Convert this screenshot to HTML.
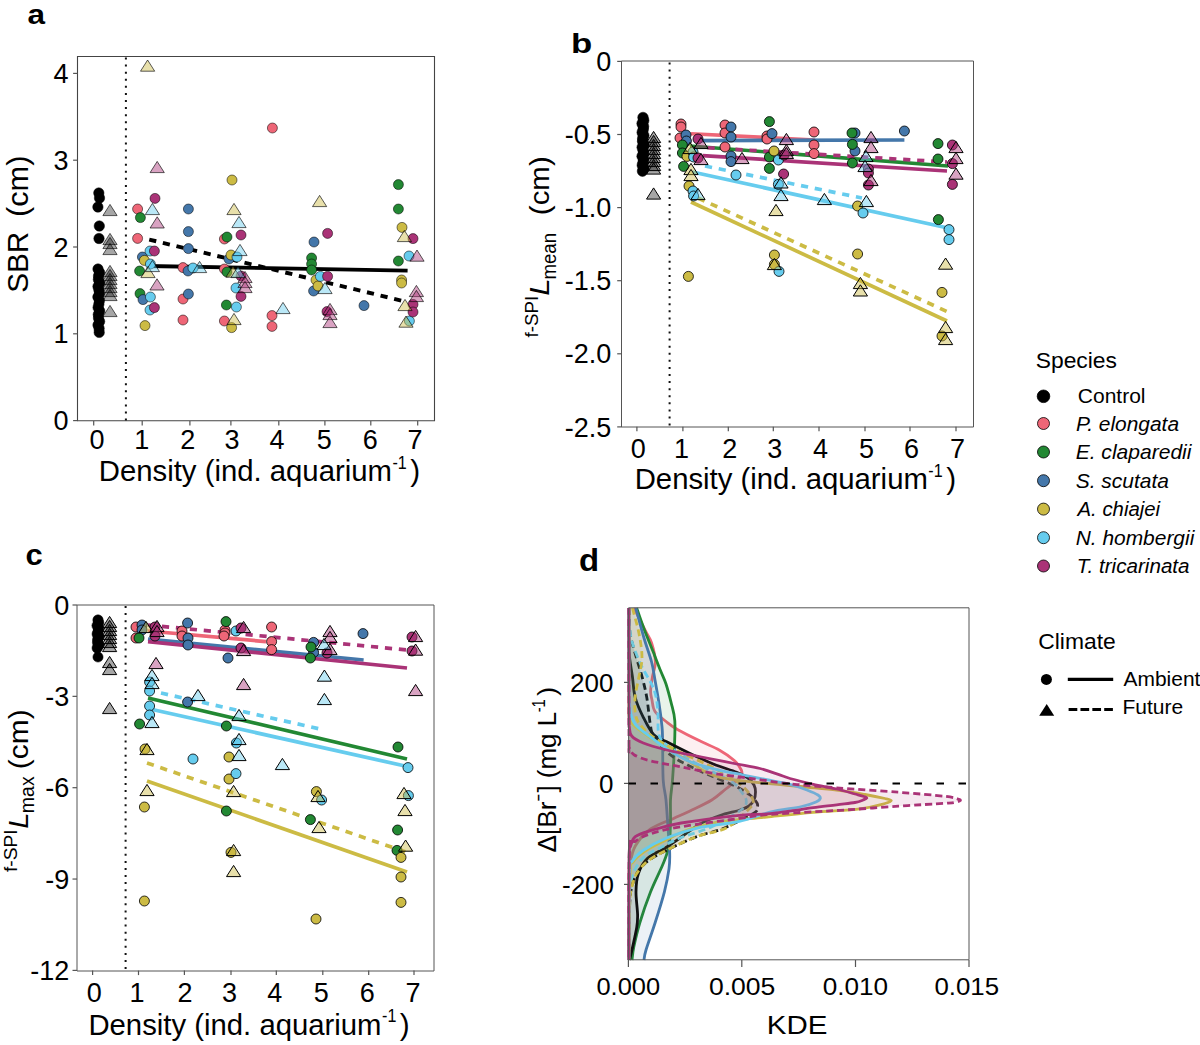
<!DOCTYPE html>
<html><head><meta charset="utf-8"><style>
html,body{margin:0;padding:0;background:#fff;overflow:hidden;}
svg{display:block;font-family:"Liberation Sans", sans-serif;}
</style></head><body>
<svg width="1200" height="1045" viewBox="0 0 1200 1045">
<rect width="1200" height="1045" fill="#fff"/>
<text transform="translate(27.47,24.40) scale(1.1267,1)" font-size="28" font-weight="bold" font-style="normal" xml:space="preserve">a</text>
<path d="M77.5,56.5 H434.5 V420.8 H77.5 Z" fill="none" stroke="#444" stroke-width="1.1"/>
<line x1="73.1" y1="420.6" x2="77.6" y2="420.6" stroke="#555" stroke-width="1.2" stroke-linecap="butt"/>
<text transform="translate(53.57,430.20) scale(1.0000,1)" font-size="27" font-weight="normal" font-style="normal" xml:space="preserve">0</text>
<line x1="73.1" y1="333.8" x2="77.6" y2="333.8" stroke="#555" stroke-width="1.2" stroke-linecap="butt"/>
<text transform="translate(53.57,343.40) scale(1.0000,1)" font-size="27" font-weight="normal" font-style="normal" xml:space="preserve">1</text>
<line x1="73.1" y1="247.00000000000003" x2="77.6" y2="247.00000000000003" stroke="#555" stroke-width="1.2" stroke-linecap="butt"/>
<text transform="translate(53.57,256.60) scale(1.0000,1)" font-size="27" font-weight="normal" font-style="normal" xml:space="preserve">2</text>
<line x1="73.1" y1="160.20000000000005" x2="77.6" y2="160.20000000000005" stroke="#555" stroke-width="1.2" stroke-linecap="butt"/>
<text transform="translate(53.57,169.80) scale(1.0000,1)" font-size="27" font-weight="normal" font-style="normal" xml:space="preserve">3</text>
<line x1="73.1" y1="73.40000000000003" x2="77.6" y2="73.40000000000003" stroke="#555" stroke-width="1.2" stroke-linecap="butt"/>
<text transform="translate(53.57,83.00) scale(1.0000,1)" font-size="27" font-weight="normal" font-style="normal" xml:space="preserve">4</text>
<line x1="93.7" y1="421" x2="93.7" y2="425.5" stroke="#555" stroke-width="1.2" stroke-linecap="butt"/>
<line x1="142.2" y1="421" x2="142.2" y2="425.5" stroke="#555" stroke-width="1.2" stroke-linecap="butt"/>
<line x1="189.9" y1="421" x2="189.9" y2="425.5" stroke="#555" stroke-width="1.2" stroke-linecap="butt"/>
<line x1="230.9" y1="421" x2="230.9" y2="425.5" stroke="#555" stroke-width="1.2" stroke-linecap="butt"/>
<line x1="278.8" y1="421" x2="278.8" y2="425.5" stroke="#555" stroke-width="1.2" stroke-linecap="butt"/>
<line x1="324.9" y1="421" x2="324.9" y2="425.5" stroke="#555" stroke-width="1.2" stroke-linecap="butt"/>
<line x1="370.8" y1="421" x2="370.8" y2="425.5" stroke="#555" stroke-width="1.2" stroke-linecap="butt"/>
<line x1="417.7" y1="421" x2="417.7" y2="425.5" stroke="#555" stroke-width="1.2" stroke-linecap="butt"/>
<text transform="translate(89.40,448.80) scale(1.0000,1)" font-size="27" font-weight="normal" font-style="normal" xml:space="preserve">0</text>
<text transform="translate(134.20,448.80) scale(1.0000,1)" font-size="27" font-weight="normal" font-style="normal" xml:space="preserve">1</text>
<text transform="translate(180.30,448.80) scale(1.0000,1)" font-size="27" font-weight="normal" font-style="normal" xml:space="preserve">2</text>
<text transform="translate(224.50,448.80) scale(1.0000,1)" font-size="27" font-weight="normal" font-style="normal" xml:space="preserve">3</text>
<text transform="translate(269.50,448.80) scale(1.0000,1)" font-size="27" font-weight="normal" font-style="normal" xml:space="preserve">4</text>
<text transform="translate(316.80,448.80) scale(1.0000,1)" font-size="27" font-weight="normal" font-style="normal" xml:space="preserve">5</text>
<text transform="translate(362.70,448.80) scale(1.0000,1)" font-size="27" font-weight="normal" font-style="normal" xml:space="preserve">6</text>
<text transform="translate(407.50,448.80) scale(1.0000,1)" font-size="27" font-weight="normal" font-style="normal" xml:space="preserve">7</text>
<line x1="125.9" y1="57.5" x2="125.9" y2="420.5" stroke="#111" stroke-width="2.0" stroke-dasharray="2 5.08" stroke-linecap="butt"/>
<text transform="translate(27.90,292.81) rotate(-90) scale(1.0070,1)" font-size="29.5" font-weight="normal" font-style="normal" xml:space="preserve">SBR</text>
<text transform="translate(27.90,217.09) rotate(-90) scale(1.0436,1)" font-size="29.5" font-weight="normal" font-style="normal" xml:space="preserve">(cm)</text>
<text transform="translate(98.81,481.00) scale(0.9938,1)" font-size="29.5" font-weight="normal" font-style="normal" xml:space="preserve">Density (ind. aquarium</text>
<text transform="translate(392.43,468.75) scale(0.8667,1)" font-size="18.6" font-weight="normal" font-style="normal" xml:space="preserve">-1</text>
<text transform="translate(410.24,481.00) scale(1.0071,1)" font-size="29.5" font-weight="normal" font-style="normal" xml:space="preserve">)</text>
<line x1="147" y1="266" x2="407.6" y2="270.6" stroke="#000000" stroke-width="3.9" stroke-linecap="butt"/>
<line x1="147" y1="239" x2="403" y2="301" stroke="#000" stroke-width="3.9" stroke-dasharray="7.2 6.8" stroke-dashoffset="11.7"/>
<circle cx="98.8" cy="193.0" r="5.2" fill="#000000" stroke="#000" stroke-width="0.5" stroke-opacity="1.0"/>
<circle cx="99.5" cy="198.0" r="5.2" fill="#000000" stroke="#000" stroke-width="0.5" stroke-opacity="1.0"/>
<circle cx="97.9" cy="207.0" r="5.2" fill="#000000" stroke="#000" stroke-width="0.5" stroke-opacity="1.0"/>
<circle cx="99.3" cy="226.0" r="5.2" fill="#000000" stroke="#000" stroke-width="0.5" stroke-opacity="1.0"/>
<circle cx="99.0" cy="238.5" r="5.2" fill="#000000" stroke="#000" stroke-width="0.5" stroke-opacity="1.0"/>
<circle cx="98.0" cy="269.0" r="5.2" fill="#000000" stroke="#000" stroke-width="0.5" stroke-opacity="1.0"/>
<circle cx="99.6" cy="272.5" r="5.2" fill="#000000" stroke="#000" stroke-width="0.5" stroke-opacity="1.0"/>
<circle cx="98.5" cy="276.0" r="5.2" fill="#000000" stroke="#000" stroke-width="0.5" stroke-opacity="1.0"/>
<circle cx="98.4" cy="279.5" r="5.2" fill="#000000" stroke="#000" stroke-width="0.5" stroke-opacity="1.0"/>
<circle cx="99.7" cy="283.0" r="5.2" fill="#000000" stroke="#000" stroke-width="0.5" stroke-opacity="1.0"/>
<circle cx="98.0" cy="286.5" r="5.2" fill="#000000" stroke="#000" stroke-width="0.5" stroke-opacity="1.0"/>
<circle cx="98.9" cy="290.0" r="5.2" fill="#000000" stroke="#000" stroke-width="0.5" stroke-opacity="1.0"/>
<circle cx="99.4" cy="293.5" r="5.2" fill="#000000" stroke="#000" stroke-width="0.5" stroke-opacity="1.0"/>
<circle cx="97.9" cy="297.0" r="5.2" fill="#000000" stroke="#000" stroke-width="0.5" stroke-opacity="1.0"/>
<circle cx="99.4" cy="300.5" r="5.2" fill="#000000" stroke="#000" stroke-width="0.5" stroke-opacity="1.0"/>
<circle cx="98.9" cy="304.0" r="5.2" fill="#000000" stroke="#000" stroke-width="0.5" stroke-opacity="1.0"/>
<circle cx="98.1" cy="307.5" r="5.2" fill="#000000" stroke="#000" stroke-width="0.5" stroke-opacity="1.0"/>
<circle cx="99.7" cy="311.0" r="5.2" fill="#000000" stroke="#000" stroke-width="0.5" stroke-opacity="1.0"/>
<circle cx="98.3" cy="314.5" r="5.2" fill="#000000" stroke="#000" stroke-width="0.5" stroke-opacity="1.0"/>
<circle cx="98.5" cy="318.0" r="5.2" fill="#000000" stroke="#000" stroke-width="0.5" stroke-opacity="1.0"/>
<circle cx="99.6" cy="321.5" r="5.2" fill="#000000" stroke="#000" stroke-width="0.5" stroke-opacity="1.0"/>
<circle cx="98.0" cy="325.0" r="5.2" fill="#000000" stroke="#000" stroke-width="0.5" stroke-opacity="1.0"/>
<circle cx="99.1" cy="328.5" r="5.2" fill="#000000" stroke="#000" stroke-width="0.5" stroke-opacity="1.0"/>
<circle cx="99.2" cy="332.4" r="5.2" fill="#000000" stroke="#000" stroke-width="0.5" stroke-opacity="1.0"/>
<polygon points="110.0,204.4 117.1,215.6 102.9,215.6" fill="#000000" fill-opacity="0.35" stroke="#000" stroke-width="0.8" stroke-opacity="0.8" stroke-linejoin="miter"/>
<polygon points="110.0,233.4 117.1,244.6 102.9,244.6" fill="#000000" fill-opacity="0.35" stroke="#000" stroke-width="0.8" stroke-opacity="0.8" stroke-linejoin="miter"/>
<polygon points="110.0,237.4 117.1,248.6 102.9,248.6" fill="#000000" fill-opacity="0.35" stroke="#000" stroke-width="0.8" stroke-opacity="0.8" stroke-linejoin="miter"/>
<polygon points="110.0,243.4 117.1,254.6 102.9,254.6" fill="#000000" fill-opacity="0.35" stroke="#000" stroke-width="0.8" stroke-opacity="0.8" stroke-linejoin="miter"/>
<polygon points="110.0,265.4 117.1,276.6 102.9,276.6" fill="#000000" fill-opacity="0.35" stroke="#000" stroke-width="0.8" stroke-opacity="0.8" stroke-linejoin="miter"/>
<polygon points="110.0,269.4 117.1,280.6 102.9,280.6" fill="#000000" fill-opacity="0.35" stroke="#000" stroke-width="0.8" stroke-opacity="0.8" stroke-linejoin="miter"/>
<polygon points="110.0,273.4 117.1,284.6 102.9,284.6" fill="#000000" fill-opacity="0.35" stroke="#000" stroke-width="0.8" stroke-opacity="0.8" stroke-linejoin="miter"/>
<polygon points="110.0,277.4 117.1,288.6 102.9,288.6" fill="#000000" fill-opacity="0.35" stroke="#000" stroke-width="0.8" stroke-opacity="0.8" stroke-linejoin="miter"/>
<polygon points="110.0,281.4 117.1,292.6 102.9,292.6" fill="#000000" fill-opacity="0.35" stroke="#000" stroke-width="0.8" stroke-opacity="0.8" stroke-linejoin="miter"/>
<polygon points="110.0,285.4 117.1,296.6 102.9,296.6" fill="#000000" fill-opacity="0.35" stroke="#000" stroke-width="0.8" stroke-opacity="0.8" stroke-linejoin="miter"/>
<polygon points="110.0,289.4 117.1,300.6 102.9,300.6" fill="#000000" fill-opacity="0.35" stroke="#000" stroke-width="0.8" stroke-opacity="0.8" stroke-linejoin="miter"/>
<polygon points="110.0,305.4 117.1,316.6 102.9,316.6" fill="#000000" fill-opacity="0.35" stroke="#000" stroke-width="0.8" stroke-opacity="0.8" stroke-linejoin="miter"/>
<circle cx="137.6" cy="209.0" r="5.0" fill="#EE6677" stroke="#000" stroke-width="0.8" stroke-opacity="0.65"/>
<circle cx="137.6" cy="238.4" r="5.0" fill="#EE6677" stroke="#000" stroke-width="0.8" stroke-opacity="0.65"/>
<circle cx="272.4" cy="128.0" r="5.0" fill="#EE6677" stroke="#000" stroke-width="0.8" stroke-opacity="0.65"/>
<circle cx="183.0" cy="267.6" r="5.0" fill="#EE6677" stroke="#000" stroke-width="0.8" stroke-opacity="0.65"/>
<circle cx="183.0" cy="299.0" r="5.0" fill="#EE6677" stroke="#000" stroke-width="0.8" stroke-opacity="0.65"/>
<circle cx="183.0" cy="320.0" r="5.0" fill="#EE6677" stroke="#000" stroke-width="0.8" stroke-opacity="0.65"/>
<circle cx="224.4" cy="239.0" r="5.0" fill="#EE6677" stroke="#000" stroke-width="0.8" stroke-opacity="0.65"/>
<circle cx="224.4" cy="269.0" r="5.0" fill="#EE6677" stroke="#000" stroke-width="0.8" stroke-opacity="0.65"/>
<circle cx="224.4" cy="321.0" r="5.0" fill="#EE6677" stroke="#000" stroke-width="0.8" stroke-opacity="0.65"/>
<circle cx="272.0" cy="315.6" r="5.0" fill="#EE6677" stroke="#000" stroke-width="0.8" stroke-opacity="0.65"/>
<circle cx="272.0" cy="326.4" r="5.0" fill="#EE6677" stroke="#000" stroke-width="0.8" stroke-opacity="0.65"/>
<circle cx="140.4" cy="217.6" r="5.0" fill="#228833" stroke="#000" stroke-width="0.8" stroke-opacity="0.65"/>
<circle cx="139.6" cy="271.0" r="5.0" fill="#228833" stroke="#000" stroke-width="0.8" stroke-opacity="0.65"/>
<circle cx="140.0" cy="293.6" r="5.0" fill="#228833" stroke="#000" stroke-width="0.8" stroke-opacity="0.65"/>
<circle cx="227.0" cy="237.0" r="5.0" fill="#228833" stroke="#000" stroke-width="0.8" stroke-opacity="0.65"/>
<circle cx="227.0" cy="272.0" r="5.0" fill="#228833" stroke="#000" stroke-width="0.8" stroke-opacity="0.65"/>
<circle cx="226.4" cy="305.0" r="5.0" fill="#228833" stroke="#000" stroke-width="0.8" stroke-opacity="0.65"/>
<circle cx="311.6" cy="258.0" r="5.0" fill="#228833" stroke="#000" stroke-width="0.8" stroke-opacity="0.65"/>
<circle cx="311.6" cy="264.0" r="5.0" fill="#228833" stroke="#000" stroke-width="0.8" stroke-opacity="0.65"/>
<circle cx="311.6" cy="270.0" r="5.0" fill="#228833" stroke="#000" stroke-width="0.8" stroke-opacity="0.65"/>
<circle cx="398.4" cy="184.6" r="5.0" fill="#228833" stroke="#000" stroke-width="0.8" stroke-opacity="0.65"/>
<circle cx="398.4" cy="209.0" r="5.0" fill="#228833" stroke="#000" stroke-width="0.8" stroke-opacity="0.65"/>
<circle cx="398.4" cy="261.0" r="5.0" fill="#228833" stroke="#000" stroke-width="0.8" stroke-opacity="0.65"/>
<circle cx="188.4" cy="209.0" r="5.0" fill="#4477AA" stroke="#000" stroke-width="0.8" stroke-opacity="0.65"/>
<circle cx="188.4" cy="231.6" r="5.0" fill="#4477AA" stroke="#000" stroke-width="0.8" stroke-opacity="0.65"/>
<circle cx="188.4" cy="248.6" r="5.0" fill="#4477AA" stroke="#000" stroke-width="0.8" stroke-opacity="0.65"/>
<circle cx="142.4" cy="257.0" r="5.0" fill="#4477AA" stroke="#000" stroke-width="0.8" stroke-opacity="0.65"/>
<circle cx="143.0" cy="299.6" r="5.0" fill="#4477AA" stroke="#000" stroke-width="0.8" stroke-opacity="0.65"/>
<circle cx="188.0" cy="271.0" r="5.0" fill="#4477AA" stroke="#000" stroke-width="0.8" stroke-opacity="0.65"/>
<circle cx="188.4" cy="294.0" r="5.0" fill="#4477AA" stroke="#000" stroke-width="0.8" stroke-opacity="0.65"/>
<circle cx="229.0" cy="259.0" r="5.0" fill="#4477AA" stroke="#000" stroke-width="0.8" stroke-opacity="0.65"/>
<circle cx="314.0" cy="242.0" r="5.0" fill="#4477AA" stroke="#000" stroke-width="0.8" stroke-opacity="0.65"/>
<circle cx="313.6" cy="291.0" r="5.0" fill="#4477AA" stroke="#000" stroke-width="0.8" stroke-opacity="0.65"/>
<circle cx="364.0" cy="305.6" r="5.0" fill="#4477AA" stroke="#000" stroke-width="0.8" stroke-opacity="0.65"/>
<circle cx="232.0" cy="180.0" r="5.0" fill="#CCBB44" stroke="#000" stroke-width="0.8" stroke-opacity="0.65"/>
<circle cx="144.4" cy="260.4" r="5.0" fill="#CCBB44" stroke="#000" stroke-width="0.8" stroke-opacity="0.65"/>
<circle cx="145.0" cy="325.6" r="5.0" fill="#CCBB44" stroke="#000" stroke-width="0.8" stroke-opacity="0.65"/>
<circle cx="231.0" cy="255.0" r="5.0" fill="#CCBB44" stroke="#000" stroke-width="0.8" stroke-opacity="0.65"/>
<circle cx="231.6" cy="327.6" r="5.0" fill="#CCBB44" stroke="#000" stroke-width="0.8" stroke-opacity="0.65"/>
<circle cx="316.0" cy="280.0" r="5.0" fill="#CCBB44" stroke="#000" stroke-width="0.8" stroke-opacity="0.65"/>
<circle cx="318.0" cy="286.0" r="5.0" fill="#CCBB44" stroke="#000" stroke-width="0.8" stroke-opacity="0.65"/>
<circle cx="402.0" cy="227.4" r="5.0" fill="#CCBB44" stroke="#000" stroke-width="0.8" stroke-opacity="0.65"/>
<circle cx="401.6" cy="280.0" r="5.0" fill="#CCBB44" stroke="#000" stroke-width="0.8" stroke-opacity="0.65"/>
<circle cx="401.6" cy="283.0" r="5.0" fill="#CCBB44" stroke="#000" stroke-width="0.8" stroke-opacity="0.65"/>
<circle cx="150.0" cy="251.0" r="5.0" fill="#66CCEE" stroke="#000" stroke-width="0.8" stroke-opacity="0.65"/>
<circle cx="150.4" cy="264.0" r="5.0" fill="#66CCEE" stroke="#000" stroke-width="0.8" stroke-opacity="0.65"/>
<circle cx="150.4" cy="297.0" r="5.0" fill="#66CCEE" stroke="#000" stroke-width="0.8" stroke-opacity="0.65"/>
<circle cx="150.0" cy="310.0" r="5.0" fill="#66CCEE" stroke="#000" stroke-width="0.8" stroke-opacity="0.65"/>
<circle cx="193.0" cy="268.0" r="5.0" fill="#66CCEE" stroke="#000" stroke-width="0.8" stroke-opacity="0.65"/>
<circle cx="236.0" cy="288.0" r="5.0" fill="#66CCEE" stroke="#000" stroke-width="0.8" stroke-opacity="0.65"/>
<circle cx="237.0" cy="257.0" r="5.0" fill="#66CCEE" stroke="#000" stroke-width="0.8" stroke-opacity="0.65"/>
<circle cx="236.4" cy="307.0" r="5.0" fill="#66CCEE" stroke="#000" stroke-width="0.8" stroke-opacity="0.65"/>
<circle cx="320.4" cy="276.4" r="5.0" fill="#66CCEE" stroke="#000" stroke-width="0.8" stroke-opacity="0.65"/>
<circle cx="409.0" cy="256.0" r="5.0" fill="#66CCEE" stroke="#000" stroke-width="0.8" stroke-opacity="0.65"/>
<circle cx="409.4" cy="321.0" r="5.0" fill="#66CCEE" stroke="#000" stroke-width="0.8" stroke-opacity="0.65"/>
<circle cx="155.0" cy="198.4" r="5.0" fill="#AA3377" stroke="#000" stroke-width="0.8" stroke-opacity="0.65"/>
<circle cx="154.4" cy="251.0" r="5.0" fill="#AA3377" stroke="#000" stroke-width="0.8" stroke-opacity="0.65"/>
<circle cx="154.4" cy="307.6" r="5.0" fill="#AA3377" stroke="#000" stroke-width="0.8" stroke-opacity="0.65"/>
<circle cx="241.0" cy="235.0" r="5.0" fill="#AA3377" stroke="#000" stroke-width="0.8" stroke-opacity="0.65"/>
<circle cx="241.0" cy="276.0" r="5.0" fill="#AA3377" stroke="#000" stroke-width="0.8" stroke-opacity="0.65"/>
<circle cx="241.0" cy="296.4" r="5.0" fill="#AA3377" stroke="#000" stroke-width="0.8" stroke-opacity="0.65"/>
<circle cx="327.6" cy="233.4" r="5.0" fill="#AA3377" stroke="#000" stroke-width="0.8" stroke-opacity="0.65"/>
<circle cx="327.6" cy="276.4" r="5.0" fill="#AA3377" stroke="#000" stroke-width="0.8" stroke-opacity="0.65"/>
<circle cx="327.0" cy="311.6" r="5.0" fill="#AA3377" stroke="#000" stroke-width="0.8" stroke-opacity="0.65"/>
<circle cx="413.0" cy="238.6" r="5.0" fill="#AA3377" stroke="#000" stroke-width="0.8" stroke-opacity="0.65"/>
<circle cx="413.0" cy="304.4" r="5.0" fill="#AA3377" stroke="#000" stroke-width="0.8" stroke-opacity="0.65"/>
<circle cx="413.0" cy="312.0" r="5.0" fill="#AA3377" stroke="#000" stroke-width="0.8" stroke-opacity="0.65"/>
<polygon points="147.6,60.0 154.7,71.2 140.5,71.2" fill="#CCBB44" fill-opacity="0.45" stroke="#000" stroke-width="0.8" stroke-opacity="0.8" stroke-linejoin="miter"/>
<polygon points="148.0,266.4 155.1,277.6 140.9,277.6" fill="#CCBB44" fill-opacity="0.45" stroke="#000" stroke-width="0.8" stroke-opacity="0.8" stroke-linejoin="miter"/>
<polygon points="234.0,203.4 241.1,214.6 226.9,214.6" fill="#CCBB44" fill-opacity="0.45" stroke="#000" stroke-width="0.8" stroke-opacity="0.8" stroke-linejoin="miter"/>
<polygon points="233.0,266.0 240.1,277.2 225.9,277.2" fill="#CCBB44" fill-opacity="0.45" stroke="#000" stroke-width="0.8" stroke-opacity="0.8" stroke-linejoin="miter"/>
<polygon points="234.0,313.4 241.1,324.6 226.9,324.6" fill="#CCBB44" fill-opacity="0.45" stroke="#000" stroke-width="0.8" stroke-opacity="0.8" stroke-linejoin="miter"/>
<polygon points="319.6,195.4 326.7,206.6 312.5,206.6" fill="#CCBB44" fill-opacity="0.45" stroke="#000" stroke-width="0.8" stroke-opacity="0.8" stroke-linejoin="miter"/>
<polygon points="404.4,230.4 411.5,241.6 397.3,241.6" fill="#CCBB44" fill-opacity="0.45" stroke="#000" stroke-width="0.8" stroke-opacity="0.8" stroke-linejoin="miter"/>
<polygon points="405.0,299.4 412.1,310.6 397.9,310.6" fill="#CCBB44" fill-opacity="0.45" stroke="#000" stroke-width="0.8" stroke-opacity="0.8" stroke-linejoin="miter"/>
<polygon points="406.0,316.0 413.1,327.2 398.9,327.2" fill="#CCBB44" fill-opacity="0.45" stroke="#000" stroke-width="0.8" stroke-opacity="0.8" stroke-linejoin="miter"/>
<polygon points="157.2,161.4 164.3,172.6 150.1,172.6" fill="#AA3377" fill-opacity="0.45" stroke="#000" stroke-width="0.8" stroke-opacity="0.8" stroke-linejoin="miter"/>
<polygon points="157.2,216.8 164.3,228.0 150.1,228.0" fill="#AA3377" fill-opacity="0.45" stroke="#000" stroke-width="0.8" stroke-opacity="0.8" stroke-linejoin="miter"/>
<polygon points="157.0,278.8 164.1,290.0 149.9,290.0" fill="#AA3377" fill-opacity="0.45" stroke="#000" stroke-width="0.8" stroke-opacity="0.8" stroke-linejoin="miter"/>
<polygon points="245.0,271.4 252.1,282.6 237.9,282.6" fill="#AA3377" fill-opacity="0.45" stroke="#000" stroke-width="0.8" stroke-opacity="0.8" stroke-linejoin="miter"/>
<polygon points="245.0,276.4 252.1,287.6 237.9,287.6" fill="#AA3377" fill-opacity="0.45" stroke="#000" stroke-width="0.8" stroke-opacity="0.8" stroke-linejoin="miter"/>
<polygon points="245.0,281.4 252.1,292.6 237.9,292.6" fill="#AA3377" fill-opacity="0.45" stroke="#000" stroke-width="0.8" stroke-opacity="0.8" stroke-linejoin="miter"/>
<polygon points="330.0,303.4 337.1,314.6 322.9,314.6" fill="#AA3377" fill-opacity="0.45" stroke="#000" stroke-width="0.8" stroke-opacity="0.8" stroke-linejoin="miter"/>
<polygon points="330.0,308.4 337.1,319.6 322.9,319.6" fill="#AA3377" fill-opacity="0.45" stroke="#000" stroke-width="0.8" stroke-opacity="0.8" stroke-linejoin="miter"/>
<polygon points="330.0,316.4 337.1,327.6 322.9,327.6" fill="#AA3377" fill-opacity="0.45" stroke="#000" stroke-width="0.8" stroke-opacity="0.8" stroke-linejoin="miter"/>
<polygon points="417.0,250.0 424.1,261.2 409.9,261.2" fill="#AA3377" fill-opacity="0.45" stroke="#000" stroke-width="0.8" stroke-opacity="0.8" stroke-linejoin="miter"/>
<polygon points="416.4,285.4 423.5,296.6 409.3,296.6" fill="#AA3377" fill-opacity="0.45" stroke="#000" stroke-width="0.8" stroke-opacity="0.8" stroke-linejoin="miter"/>
<polygon points="416.4,290.4 423.5,301.6 409.3,301.6" fill="#AA3377" fill-opacity="0.45" stroke="#000" stroke-width="0.8" stroke-opacity="0.8" stroke-linejoin="miter"/>
<polygon points="152.4,203.4 159.5,214.6 145.3,214.6" fill="#66CCEE" fill-opacity="0.45" stroke="#000" stroke-width="0.8" stroke-opacity="0.8" stroke-linejoin="miter"/>
<polygon points="152.4,260.4 159.5,271.6 145.3,271.6" fill="#66CCEE" fill-opacity="0.45" stroke="#000" stroke-width="0.8" stroke-opacity="0.8" stroke-linejoin="miter"/>
<polygon points="199.6,261.4 206.7,272.6 192.5,272.6" fill="#66CCEE" fill-opacity="0.45" stroke="#000" stroke-width="0.8" stroke-opacity="0.8" stroke-linejoin="miter"/>
<polygon points="239.0,216.4 246.1,227.6 231.9,227.6" fill="#66CCEE" fill-opacity="0.45" stroke="#000" stroke-width="0.8" stroke-opacity="0.8" stroke-linejoin="miter"/>
<polygon points="240.0,244.4 247.1,255.6 232.9,255.6" fill="#66CCEE" fill-opacity="0.45" stroke="#000" stroke-width="0.8" stroke-opacity="0.8" stroke-linejoin="miter"/>
<polygon points="238.0,266.4 245.1,277.6 230.9,277.6" fill="#66CCEE" fill-opacity="0.45" stroke="#000" stroke-width="0.8" stroke-opacity="0.8" stroke-linejoin="miter"/>
<polygon points="283.0,302.4 290.1,313.6 275.9,313.6" fill="#66CCEE" fill-opacity="0.45" stroke="#000" stroke-width="0.8" stroke-opacity="0.8" stroke-linejoin="miter"/>
<polygon points="325.0,282.4 332.1,293.6 317.9,293.6" fill="#66CCEE" fill-opacity="0.45" stroke="#000" stroke-width="0.8" stroke-opacity="0.8" stroke-linejoin="miter"/>
<text transform="translate(571.11,53.00) scale(1.2429,1)" font-size="28" font-weight="bold" font-style="normal" xml:space="preserve">b</text>
<path d="M621.5,61.0 H973.5 V427.0 H621.5 Z" fill="none" stroke="#555" stroke-width="1.0"/>
<line x1="617.2" y1="61.4" x2="621.7" y2="61.4" stroke="#555" stroke-width="1.2" stroke-linecap="butt"/>
<text transform="translate(596.17,71.00) scale(1.0000,1)" font-size="27" font-weight="normal" font-style="normal" xml:space="preserve">0</text>
<line x1="617.2" y1="134.5" x2="621.7" y2="134.5" stroke="#555" stroke-width="1.2" stroke-linecap="butt"/>
<text transform="translate(564.67,144.10) scale(1.0000,1)" font-size="27" font-weight="normal" font-style="normal" xml:space="preserve">-0.5</text>
<line x1="617.2" y1="207.6" x2="621.7" y2="207.6" stroke="#555" stroke-width="1.2" stroke-linecap="butt"/>
<text transform="translate(564.67,217.20) scale(1.0000,1)" font-size="27" font-weight="normal" font-style="normal" xml:space="preserve">-1.0</text>
<line x1="617.2" y1="280.7" x2="621.7" y2="280.7" stroke="#555" stroke-width="1.2" stroke-linecap="butt"/>
<text transform="translate(564.67,290.30) scale(1.0000,1)" font-size="27" font-weight="normal" font-style="normal" xml:space="preserve">-1.5</text>
<line x1="617.2" y1="353.79999999999995" x2="621.7" y2="353.79999999999995" stroke="#555" stroke-width="1.2" stroke-linecap="butt"/>
<text transform="translate(564.67,363.40) scale(1.0000,1)" font-size="27" font-weight="normal" font-style="normal" xml:space="preserve">-2.0</text>
<line x1="617.2" y1="426.9" x2="621.7" y2="426.9" stroke="#555" stroke-width="1.2" stroke-linecap="butt"/>
<text transform="translate(564.67,436.50) scale(1.0000,1)" font-size="27" font-weight="normal" font-style="normal" xml:space="preserve">-2.5</text>
<line x1="636.9" y1="426.8" x2="636.9" y2="431.3" stroke="#555" stroke-width="1.2" stroke-linecap="butt"/>
<line x1="682.9" y1="426.8" x2="682.9" y2="431.3" stroke="#555" stroke-width="1.2" stroke-linecap="butt"/>
<line x1="728.3" y1="426.8" x2="728.3" y2="431.3" stroke="#555" stroke-width="1.2" stroke-linecap="butt"/>
<line x1="773.3" y1="426.8" x2="773.3" y2="431.3" stroke="#555" stroke-width="1.2" stroke-linecap="butt"/>
<line x1="819" y1="426.8" x2="819" y2="431.3" stroke="#555" stroke-width="1.2" stroke-linecap="butt"/>
<line x1="865" y1="426.8" x2="865" y2="431.3" stroke="#555" stroke-width="1.2" stroke-linecap="butt"/>
<line x1="910" y1="426.8" x2="910" y2="431.3" stroke="#555" stroke-width="1.2" stroke-linecap="butt"/>
<line x1="956" y1="426.8" x2="956" y2="431.3" stroke="#555" stroke-width="1.2" stroke-linecap="butt"/>
<text transform="translate(630.80,457.90) scale(1.0000,1)" font-size="27" font-weight="normal" font-style="normal" xml:space="preserve">0</text>
<text transform="translate(673.90,457.90) scale(1.0000,1)" font-size="27" font-weight="normal" font-style="normal" xml:space="preserve">1</text>
<text transform="translate(722.20,457.90) scale(1.0000,1)" font-size="27" font-weight="normal" font-style="normal" xml:space="preserve">2</text>
<text transform="translate(767.20,457.90) scale(1.0000,1)" font-size="27" font-weight="normal" font-style="normal" xml:space="preserve">3</text>
<text transform="translate(812.90,457.90) scale(1.0000,1)" font-size="27" font-weight="normal" font-style="normal" xml:space="preserve">4</text>
<text transform="translate(858.90,457.90) scale(1.0000,1)" font-size="27" font-weight="normal" font-style="normal" xml:space="preserve">5</text>
<text transform="translate(903.90,457.90) scale(1.0000,1)" font-size="27" font-weight="normal" font-style="normal" xml:space="preserve">6</text>
<text transform="translate(949.90,457.90) scale(1.0000,1)" font-size="27" font-weight="normal" font-style="normal" xml:space="preserve">7</text>
<line x1="669.6" y1="62.5" x2="669.6" y2="426" stroke="#111" stroke-width="2.0" stroke-dasharray="2 5.08" stroke-linecap="butt"/>
<text transform="translate(634.71,489.00) scale(0.9938,1)" font-size="29.5" font-weight="normal" font-style="normal" xml:space="preserve">Density (ind. aquarium</text>
<text transform="translate(928.33,476.75) scale(0.8667,1)" font-size="18.6" font-weight="normal" font-style="normal" xml:space="preserve">-1</text>
<text transform="translate(946.14,489.00) scale(1.0071,1)" font-size="29.5" font-weight="normal" font-style="normal" xml:space="preserve">)</text>
<text transform="translate(538.00,337.50) rotate(-90) scale(0.9854,1)" font-size="19" font-weight="normal" font-style="normal" xml:space="preserve">f-SPI</text>
<text transform="translate(549.20,295.73) rotate(-90) scale(1.1333,1)" font-size="27.5" font-weight="normal" font-style="italic" xml:space="preserve">L</text>
<text transform="translate(556.00,279.45) rotate(-90) scale(0.9532,1)" font-size="19.5" font-weight="normal" font-style="normal" xml:space="preserve">mean</text>
<text transform="translate(549.20,215.14) rotate(-90) scale(1.0706,1)" font-size="27.5" font-weight="normal" font-style="normal" xml:space="preserve">(cm)</text>
<line x1="691" y1="133.75" x2="815" y2="140" stroke="#EE6677" stroke-width="3.7" stroke-linecap="butt"/>
<line x1="690" y1="146" x2="948" y2="166" stroke="#228833" stroke-width="3.7" stroke-linecap="butt"/>
<line x1="698.75" y1="140.6" x2="904.4" y2="140" stroke="#4477AA" stroke-width="3.7" stroke-linecap="butt"/>
<line x1="691" y1="202" x2="947" y2="321" stroke="#CCBB44" stroke-width="3.7" stroke-linecap="butt"/>
<line x1="698" y1="198" x2="948" y2="312" stroke="#CCBB44" stroke-width="3.7" stroke-dasharray="7.2 6.8" stroke-linecap="butt"/>
<line x1="692.5" y1="172" x2="948" y2="228" stroke="#66CCEE" stroke-width="3.7" stroke-linecap="butt"/>
<line x1="705" y1="166" x2="862" y2="198" stroke="#66CCEE" stroke-width="3.7" stroke-dasharray="7.2 6.8" stroke-linecap="butt"/>
<line x1="702.5" y1="155.6" x2="947" y2="171" stroke="#AA3377" stroke-width="3.7" stroke-linecap="butt"/>
<line x1="707.5" y1="147.75" x2="947" y2="162" stroke="#AA3377" stroke-width="3.7" stroke-dasharray="7.2 6.8" stroke-linecap="butt"/>
<circle cx="643.0" cy="117.5" r="5.3" fill="#000000" stroke="#000" stroke-width="0.5" stroke-opacity="1.0"/>
<circle cx="643.7" cy="120.5" r="5.3" fill="#000000" stroke="#000" stroke-width="0.5" stroke-opacity="1.0"/>
<circle cx="642.1" cy="123.5" r="5.3" fill="#000000" stroke="#000" stroke-width="0.5" stroke-opacity="1.0"/>
<circle cx="643.5" cy="126.4" r="5.3" fill="#000000" stroke="#000" stroke-width="0.5" stroke-opacity="1.0"/>
<circle cx="643.2" cy="129.4" r="5.3" fill="#000000" stroke="#000" stroke-width="0.5" stroke-opacity="1.0"/>
<circle cx="642.2" cy="132.4" r="5.3" fill="#000000" stroke="#000" stroke-width="0.5" stroke-opacity="1.0"/>
<circle cx="643.8" cy="135.4" r="5.3" fill="#000000" stroke="#000" stroke-width="0.5" stroke-opacity="1.0"/>
<circle cx="642.7" cy="138.4" r="5.3" fill="#000000" stroke="#000" stroke-width="0.5" stroke-opacity="1.0"/>
<circle cx="642.6" cy="141.3" r="5.3" fill="#000000" stroke="#000" stroke-width="0.5" stroke-opacity="1.0"/>
<circle cx="643.9" cy="144.3" r="5.3" fill="#000000" stroke="#000" stroke-width="0.5" stroke-opacity="1.0"/>
<circle cx="642.2" cy="147.3" r="5.3" fill="#000000" stroke="#000" stroke-width="0.5" stroke-opacity="1.0"/>
<circle cx="643.1" cy="150.3" r="5.3" fill="#000000" stroke="#000" stroke-width="0.5" stroke-opacity="1.0"/>
<circle cx="643.6" cy="153.3" r="5.3" fill="#000000" stroke="#000" stroke-width="0.5" stroke-opacity="1.0"/>
<circle cx="642.1" cy="156.2" r="5.3" fill="#000000" stroke="#000" stroke-width="0.5" stroke-opacity="1.0"/>
<circle cx="643.6" cy="159.2" r="5.3" fill="#000000" stroke="#000" stroke-width="0.5" stroke-opacity="1.0"/>
<circle cx="643.1" cy="162.2" r="5.3" fill="#000000" stroke="#000" stroke-width="0.5" stroke-opacity="1.0"/>
<circle cx="642.3" cy="165.2" r="5.3" fill="#000000" stroke="#000" stroke-width="0.5" stroke-opacity="1.0"/>
<circle cx="643.9" cy="168.2" r="5.3" fill="#000000" stroke="#000" stroke-width="0.5" stroke-opacity="1.0"/>
<circle cx="642.5" cy="171.1" r="5.3" fill="#000000" stroke="#000" stroke-width="0.5" stroke-opacity="1.0"/>
<polygon points="653.6,131.4 660.7,142.6 646.5,142.6" fill="#000000" fill-opacity="0.35" stroke="#000" stroke-width="1.0" stroke-opacity="1.0" stroke-linejoin="miter"/>
<polygon points="653.6,135.4 660.7,146.6 646.5,146.6" fill="#000000" fill-opacity="0.35" stroke="#000" stroke-width="1.0" stroke-opacity="1.0" stroke-linejoin="miter"/>
<polygon points="653.6,139.4 660.7,150.6 646.5,150.6" fill="#000000" fill-opacity="0.35" stroke="#000" stroke-width="1.0" stroke-opacity="1.0" stroke-linejoin="miter"/>
<polygon points="653.6,143.4 660.7,154.6 646.5,154.6" fill="#000000" fill-opacity="0.35" stroke="#000" stroke-width="1.0" stroke-opacity="1.0" stroke-linejoin="miter"/>
<polygon points="653.6,147.4 660.7,158.6 646.5,158.6" fill="#000000" fill-opacity="0.35" stroke="#000" stroke-width="1.0" stroke-opacity="1.0" stroke-linejoin="miter"/>
<polygon points="653.6,151.4 660.7,162.6 646.5,162.6" fill="#000000" fill-opacity="0.35" stroke="#000" stroke-width="1.0" stroke-opacity="1.0" stroke-linejoin="miter"/>
<polygon points="653.6,155.4 660.7,166.6 646.5,166.6" fill="#000000" fill-opacity="0.35" stroke="#000" stroke-width="1.0" stroke-opacity="1.0" stroke-linejoin="miter"/>
<polygon points="653.6,159.4 660.7,170.6 646.5,170.6" fill="#000000" fill-opacity="0.35" stroke="#000" stroke-width="1.0" stroke-opacity="1.0" stroke-linejoin="miter"/>
<polygon points="653.6,162.9 660.7,174.1 646.5,174.1" fill="#000000" fill-opacity="0.35" stroke="#000" stroke-width="1.0" stroke-opacity="1.0" stroke-linejoin="miter"/>
<polygon points="653.6,187.9 660.7,199.1 646.5,199.1" fill="#000000" fill-opacity="0.35" stroke="#000" stroke-width="1.0" stroke-opacity="1.0" stroke-linejoin="miter"/>
<circle cx="681.0" cy="124.0" r="5.0" fill="#EE6677" stroke="#000" stroke-width="0.8" stroke-opacity="1.0"/>
<circle cx="681.0" cy="127.0" r="5.0" fill="#EE6677" stroke="#000" stroke-width="0.8" stroke-opacity="1.0"/>
<circle cx="680.0" cy="138.0" r="5.0" fill="#EE6677" stroke="#000" stroke-width="0.8" stroke-opacity="1.0"/>
<circle cx="725.0" cy="125.0" r="5.0" fill="#EE6677" stroke="#000" stroke-width="0.8" stroke-opacity="1.0"/>
<circle cx="725.0" cy="133.0" r="5.0" fill="#EE6677" stroke="#000" stroke-width="0.8" stroke-opacity="1.0"/>
<circle cx="725.0" cy="147.0" r="5.0" fill="#EE6677" stroke="#000" stroke-width="0.8" stroke-opacity="1.0"/>
<circle cx="767.0" cy="136.0" r="5.0" fill="#EE6677" stroke="#000" stroke-width="0.8" stroke-opacity="1.0"/>
<circle cx="767.0" cy="139.0" r="5.0" fill="#EE6677" stroke="#000" stroke-width="0.8" stroke-opacity="1.0"/>
<circle cx="814.0" cy="132.0" r="5.0" fill="#EE6677" stroke="#000" stroke-width="0.8" stroke-opacity="1.0"/>
<circle cx="814.0" cy="145.0" r="5.0" fill="#EE6677" stroke="#000" stroke-width="0.8" stroke-opacity="1.0"/>
<circle cx="814.0" cy="153.6" r="5.0" fill="#EE6677" stroke="#000" stroke-width="0.8" stroke-opacity="1.0"/>
<circle cx="686.0" cy="135.0" r="5.0" fill="#4477AA" stroke="#000" stroke-width="0.8" stroke-opacity="1.0"/>
<circle cx="686.4" cy="141.0" r="5.0" fill="#4477AA" stroke="#000" stroke-width="0.8" stroke-opacity="1.0"/>
<circle cx="731.0" cy="127.0" r="5.0" fill="#4477AA" stroke="#000" stroke-width="0.8" stroke-opacity="1.0"/>
<circle cx="731.0" cy="137.0" r="5.0" fill="#4477AA" stroke="#000" stroke-width="0.8" stroke-opacity="1.0"/>
<circle cx="731.0" cy="156.0" r="5.0" fill="#4477AA" stroke="#000" stroke-width="0.8" stroke-opacity="1.0"/>
<circle cx="731.0" cy="161.6" r="5.0" fill="#4477AA" stroke="#000" stroke-width="0.8" stroke-opacity="1.0"/>
<circle cx="772.0" cy="133.6" r="5.0" fill="#4477AA" stroke="#000" stroke-width="0.8" stroke-opacity="1.0"/>
<circle cx="855.0" cy="133.0" r="5.0" fill="#4477AA" stroke="#000" stroke-width="0.8" stroke-opacity="1.0"/>
<circle cx="855.0" cy="151.0" r="5.0" fill="#4477AA" stroke="#000" stroke-width="0.8" stroke-opacity="1.0"/>
<circle cx="904.4" cy="131.0" r="5.0" fill="#4477AA" stroke="#000" stroke-width="0.8" stroke-opacity="1.0"/>
<circle cx="682.4" cy="145.0" r="5.0" fill="#228833" stroke="#000" stroke-width="0.8" stroke-opacity="1.0"/>
<circle cx="682.4" cy="153.0" r="5.0" fill="#228833" stroke="#000" stroke-width="0.8" stroke-opacity="1.0"/>
<circle cx="683.6" cy="166.4" r="5.0" fill="#228833" stroke="#000" stroke-width="0.8" stroke-opacity="1.0"/>
<circle cx="769.4" cy="121.6" r="5.0" fill="#228833" stroke="#000" stroke-width="0.8" stroke-opacity="1.0"/>
<circle cx="769.4" cy="157.0" r="5.0" fill="#228833" stroke="#000" stroke-width="0.8" stroke-opacity="1.0"/>
<circle cx="769.4" cy="168.4" r="5.0" fill="#228833" stroke="#000" stroke-width="0.8" stroke-opacity="1.0"/>
<circle cx="852.0" cy="133.0" r="5.0" fill="#228833" stroke="#000" stroke-width="0.8" stroke-opacity="1.0"/>
<circle cx="852.4" cy="144.4" r="5.0" fill="#228833" stroke="#000" stroke-width="0.8" stroke-opacity="1.0"/>
<circle cx="852.4" cy="163.0" r="5.0" fill="#228833" stroke="#000" stroke-width="0.8" stroke-opacity="1.0"/>
<circle cx="938.0" cy="143.6" r="5.0" fill="#228833" stroke="#000" stroke-width="0.8" stroke-opacity="1.0"/>
<circle cx="938.0" cy="159.0" r="5.0" fill="#228833" stroke="#000" stroke-width="0.8" stroke-opacity="1.0"/>
<circle cx="938.4" cy="219.6" r="5.0" fill="#228833" stroke="#000" stroke-width="0.8" stroke-opacity="1.0"/>
<circle cx="687.0" cy="156.4" r="5.0" fill="#CCBB44" stroke="#000" stroke-width="0.8" stroke-opacity="1.0"/>
<circle cx="689.0" cy="186.0" r="5.0" fill="#CCBB44" stroke="#000" stroke-width="0.8" stroke-opacity="1.0"/>
<circle cx="774.0" cy="151.0" r="5.0" fill="#CCBB44" stroke="#000" stroke-width="0.8" stroke-opacity="1.0"/>
<circle cx="688.4" cy="276.4" r="5.0" fill="#CCBB44" stroke="#000" stroke-width="0.8" stroke-opacity="1.0"/>
<circle cx="774.4" cy="255.0" r="5.0" fill="#CCBB44" stroke="#000" stroke-width="0.8" stroke-opacity="1.0"/>
<circle cx="774.4" cy="264.4" r="5.0" fill="#CCBB44" stroke="#000" stroke-width="0.8" stroke-opacity="1.0"/>
<circle cx="857.6" cy="206.0" r="5.0" fill="#CCBB44" stroke="#000" stroke-width="0.8" stroke-opacity="1.0"/>
<circle cx="857.6" cy="254.0" r="5.0" fill="#CCBB44" stroke="#000" stroke-width="0.8" stroke-opacity="1.0"/>
<circle cx="942.0" cy="292.4" r="5.0" fill="#CCBB44" stroke="#000" stroke-width="0.8" stroke-opacity="1.0"/>
<circle cx="942.0" cy="336.0" r="5.0" fill="#CCBB44" stroke="#000" stroke-width="0.8" stroke-opacity="1.0"/>
<circle cx="693.0" cy="152.0" r="5.0" fill="#66CCEE" stroke="#000" stroke-width="0.8" stroke-opacity="1.0"/>
<circle cx="693.6" cy="157.0" r="5.0" fill="#66CCEE" stroke="#000" stroke-width="0.8" stroke-opacity="1.0"/>
<circle cx="736.0" cy="175.0" r="5.0" fill="#66CCEE" stroke="#000" stroke-width="0.8" stroke-opacity="1.0"/>
<circle cx="693.0" cy="191.0" r="5.0" fill="#66CCEE" stroke="#000" stroke-width="0.8" stroke-opacity="1.0"/>
<circle cx="693.6" cy="196.0" r="5.0" fill="#66CCEE" stroke="#000" stroke-width="0.8" stroke-opacity="1.0"/>
<circle cx="778.4" cy="160.0" r="5.0" fill="#66CCEE" stroke="#000" stroke-width="0.8" stroke-opacity="1.0"/>
<circle cx="778.4" cy="184.4" r="5.0" fill="#66CCEE" stroke="#000" stroke-width="0.8" stroke-opacity="1.0"/>
<circle cx="779.0" cy="271.4" r="5.0" fill="#66CCEE" stroke="#000" stroke-width="0.8" stroke-opacity="1.0"/>
<circle cx="863.0" cy="213.0" r="5.0" fill="#66CCEE" stroke="#000" stroke-width="0.8" stroke-opacity="1.0"/>
<circle cx="949.0" cy="229.6" r="5.0" fill="#66CCEE" stroke="#000" stroke-width="0.8" stroke-opacity="1.0"/>
<circle cx="949.0" cy="239.6" r="5.0" fill="#66CCEE" stroke="#000" stroke-width="0.8" stroke-opacity="1.0"/>
<circle cx="698.0" cy="139.0" r="5.0" fill="#AA3377" stroke="#000" stroke-width="0.8" stroke-opacity="1.0"/>
<circle cx="698.0" cy="158.0" r="5.0" fill="#AA3377" stroke="#000" stroke-width="0.8" stroke-opacity="1.0"/>
<circle cx="784.0" cy="155.0" r="5.0" fill="#AA3377" stroke="#000" stroke-width="0.8" stroke-opacity="1.0"/>
<circle cx="783.6" cy="174.0" r="5.0" fill="#AA3377" stroke="#000" stroke-width="0.8" stroke-opacity="1.0"/>
<circle cx="868.4" cy="169.0" r="5.0" fill="#AA3377" stroke="#000" stroke-width="0.8" stroke-opacity="1.0"/>
<circle cx="868.4" cy="173.0" r="5.0" fill="#AA3377" stroke="#000" stroke-width="0.8" stroke-opacity="1.0"/>
<circle cx="868.4" cy="185.0" r="5.0" fill="#AA3377" stroke="#000" stroke-width="0.8" stroke-opacity="1.0"/>
<circle cx="952.4" cy="145.0" r="5.0" fill="#AA3377" stroke="#000" stroke-width="0.8" stroke-opacity="1.0"/>
<circle cx="952.4" cy="163.6" r="5.0" fill="#AA3377" stroke="#000" stroke-width="0.8" stroke-opacity="1.0"/>
<circle cx="952.4" cy="184.4" r="5.0" fill="#AA3377" stroke="#000" stroke-width="0.8" stroke-opacity="1.0"/>
<polygon points="701.0,137.4 708.1,148.6 693.9,148.6" fill="#AA3377" fill-opacity="0.45" stroke="#000" stroke-width="1.0" stroke-opacity="1.0" stroke-linejoin="miter"/>
<polygon points="701.0,153.4 708.1,164.6 693.9,164.6" fill="#AA3377" fill-opacity="0.45" stroke="#000" stroke-width="1.0" stroke-opacity="1.0" stroke-linejoin="miter"/>
<polygon points="742.0,152.4 749.1,163.6 734.9,163.6" fill="#AA3377" fill-opacity="0.45" stroke="#000" stroke-width="1.0" stroke-opacity="1.0" stroke-linejoin="miter"/>
<polygon points="786.4,133.4 793.5,144.6 779.3,144.6" fill="#AA3377" fill-opacity="0.45" stroke="#000" stroke-width="1.0" stroke-opacity="1.0" stroke-linejoin="miter"/>
<polygon points="786.4,144.4 793.5,155.6 779.3,155.6" fill="#AA3377" fill-opacity="0.45" stroke="#000" stroke-width="1.0" stroke-opacity="1.0" stroke-linejoin="miter"/>
<polygon points="786.4,147.4 793.5,158.6 779.3,158.6" fill="#AA3377" fill-opacity="0.45" stroke="#000" stroke-width="1.0" stroke-opacity="1.0" stroke-linejoin="miter"/>
<polygon points="871.0,131.4 878.1,142.6 863.9,142.6" fill="#AA3377" fill-opacity="0.45" stroke="#000" stroke-width="1.0" stroke-opacity="1.0" stroke-linejoin="miter"/>
<polygon points="871.0,141.4 878.1,152.6 863.9,152.6" fill="#AA3377" fill-opacity="0.45" stroke="#000" stroke-width="1.0" stroke-opacity="1.0" stroke-linejoin="miter"/>
<polygon points="871.0,174.4 878.1,185.6 863.9,185.6" fill="#AA3377" fill-opacity="0.45" stroke="#000" stroke-width="1.0" stroke-opacity="1.0" stroke-linejoin="miter"/>
<polygon points="956.0,141.4 963.1,152.6 948.9,152.6" fill="#AA3377" fill-opacity="0.45" stroke="#000" stroke-width="1.0" stroke-opacity="1.0" stroke-linejoin="miter"/>
<polygon points="956.0,152.4 963.1,163.6 948.9,163.6" fill="#AA3377" fill-opacity="0.45" stroke="#000" stroke-width="1.0" stroke-opacity="1.0" stroke-linejoin="miter"/>
<polygon points="956.0,168.0 963.1,179.2 948.9,179.2" fill="#AA3377" fill-opacity="0.45" stroke="#000" stroke-width="1.0" stroke-opacity="1.0" stroke-linejoin="miter"/>
<polygon points="690.0,142.4 697.1,153.6 682.9,153.6" fill="#CCBB44" fill-opacity="0.45" stroke="#000" stroke-width="1.0" stroke-opacity="1.0" stroke-linejoin="miter"/>
<polygon points="691.0,163.4 698.1,174.6 683.9,174.6" fill="#CCBB44" fill-opacity="0.45" stroke="#000" stroke-width="1.0" stroke-opacity="1.0" stroke-linejoin="miter"/>
<polygon points="691.0,169.4 698.1,180.6 683.9,180.6" fill="#CCBB44" fill-opacity="0.45" stroke="#000" stroke-width="1.0" stroke-opacity="1.0" stroke-linejoin="miter"/>
<polygon points="776.0,204.4 783.1,215.6 768.9,215.6" fill="#CCBB44" fill-opacity="0.45" stroke="#000" stroke-width="1.0" stroke-opacity="1.0" stroke-linejoin="miter"/>
<polygon points="774.4,258.4 781.5,269.6 767.3,269.6" fill="#CCBB44" fill-opacity="0.45" stroke="#000" stroke-width="1.0" stroke-opacity="1.0" stroke-linejoin="miter"/>
<polygon points="860.4,277.4 867.5,288.6 853.3,288.6" fill="#CCBB44" fill-opacity="0.45" stroke="#000" stroke-width="1.0" stroke-opacity="1.0" stroke-linejoin="miter"/>
<polygon points="860.4,284.8 867.5,296.0 853.3,296.0" fill="#CCBB44" fill-opacity="0.45" stroke="#000" stroke-width="1.0" stroke-opacity="1.0" stroke-linejoin="miter"/>
<polygon points="945.6,258.0 952.7,269.2 938.5,269.2" fill="#CCBB44" fill-opacity="0.45" stroke="#000" stroke-width="1.0" stroke-opacity="1.0" stroke-linejoin="miter"/>
<polygon points="945.6,321.4 952.7,332.6 938.5,332.6" fill="#CCBB44" fill-opacity="0.45" stroke="#000" stroke-width="1.0" stroke-opacity="1.0" stroke-linejoin="miter"/>
<polygon points="945.6,333.4 952.7,344.6 938.5,344.6" fill="#CCBB44" fill-opacity="0.45" stroke="#000" stroke-width="1.0" stroke-opacity="1.0" stroke-linejoin="miter"/>
<polygon points="698.0,188.4 705.1,199.6 690.9,199.6" fill="#66CCEE" fill-opacity="0.45" stroke="#000" stroke-width="1.0" stroke-opacity="1.0" stroke-linejoin="miter"/>
<polygon points="781.0,176.8 788.1,188.0 773.9,188.0" fill="#66CCEE" fill-opacity="0.45" stroke="#000" stroke-width="1.0" stroke-opacity="1.0" stroke-linejoin="miter"/>
<polygon points="781.0,189.4 788.1,200.6 773.9,200.6" fill="#66CCEE" fill-opacity="0.45" stroke="#000" stroke-width="1.0" stroke-opacity="1.0" stroke-linejoin="miter"/>
<polygon points="824.4,193.4 831.5,204.6 817.3,204.6" fill="#66CCEE" fill-opacity="0.45" stroke="#000" stroke-width="1.0" stroke-opacity="1.0" stroke-linejoin="miter"/>
<polygon points="866.0,150.4 873.1,161.6 858.9,161.6" fill="#66CCEE" fill-opacity="0.45" stroke="#000" stroke-width="1.0" stroke-opacity="1.0" stroke-linejoin="miter"/>
<polygon points="865.0,160.4 872.1,171.6 857.9,171.6" fill="#66CCEE" fill-opacity="0.45" stroke="#000" stroke-width="1.0" stroke-opacity="1.0" stroke-linejoin="miter"/>
<polygon points="866.4,195.4 873.5,206.6 859.3,206.6" fill="#66CCEE" fill-opacity="0.45" stroke="#000" stroke-width="1.0" stroke-opacity="1.0" stroke-linejoin="miter"/>
<text transform="translate(25.47,564.50) scale(1.0333,1)" font-size="30" font-weight="bold" font-style="normal" xml:space="preserve">c</text>
<path d="M77.0,605.0 H434.0 V971.0 H77.0 Z" fill="none" stroke="#555" stroke-width="1.0"/>
<line x1="72.5" y1="605.0" x2="77" y2="605.0" stroke="#555" stroke-width="1.2" stroke-linecap="butt"/>
<text transform="translate(54.17,614.60) scale(1.0000,1)" font-size="27" font-weight="normal" font-style="normal" xml:space="preserve">0</text>
<line x1="72.5" y1="696.35" x2="77" y2="696.35" stroke="#555" stroke-width="1.2" stroke-linecap="butt"/>
<text transform="translate(45.18,705.95) scale(1.0000,1)" font-size="27" font-weight="normal" font-style="normal" xml:space="preserve">-3</text>
<line x1="72.5" y1="787.7" x2="77" y2="787.7" stroke="#555" stroke-width="1.2" stroke-linecap="butt"/>
<text transform="translate(45.18,797.30) scale(1.0000,1)" font-size="27" font-weight="normal" font-style="normal" xml:space="preserve">-6</text>
<line x1="72.5" y1="879.05" x2="77" y2="879.05" stroke="#555" stroke-width="1.2" stroke-linecap="butt"/>
<text transform="translate(45.18,888.65) scale(1.0000,1)" font-size="27" font-weight="normal" font-style="normal" xml:space="preserve">-9</text>
<line x1="72.5" y1="970.4" x2="77" y2="970.4" stroke="#555" stroke-width="1.2" stroke-linecap="butt"/>
<text transform="translate(30.17,980.00) scale(1.0000,1)" font-size="27" font-weight="normal" font-style="normal" xml:space="preserve">-12</text>
<line x1="92.6" y1="970.6" x2="92.6" y2="975.1" stroke="#555" stroke-width="1.2" stroke-linecap="butt"/>
<line x1="138.5" y1="970.6" x2="138.5" y2="975.1" stroke="#555" stroke-width="1.2" stroke-linecap="butt"/>
<line x1="184.4" y1="970.6" x2="184.4" y2="975.1" stroke="#555" stroke-width="1.2" stroke-linecap="butt"/>
<line x1="231" y1="970.6" x2="231" y2="975.1" stroke="#555" stroke-width="1.2" stroke-linecap="butt"/>
<line x1="276.3" y1="970.6" x2="276.3" y2="975.1" stroke="#555" stroke-width="1.2" stroke-linecap="butt"/>
<line x1="322.8" y1="970.6" x2="322.8" y2="975.1" stroke="#555" stroke-width="1.2" stroke-linecap="butt"/>
<line x1="368.7" y1="970.6" x2="368.7" y2="975.1" stroke="#555" stroke-width="1.2" stroke-linecap="butt"/>
<line x1="414" y1="970.6" x2="414" y2="975.1" stroke="#555" stroke-width="1.2" stroke-linecap="butt"/>
<text transform="translate(86.70,1001.80) scale(1.0000,1)" font-size="27" font-weight="normal" font-style="normal" xml:space="preserve">0</text>
<text transform="translate(129.60,1001.80) scale(1.0000,1)" font-size="27" font-weight="normal" font-style="normal" xml:space="preserve">1</text>
<text transform="translate(177.50,1001.80) scale(1.0000,1)" font-size="27" font-weight="normal" font-style="normal" xml:space="preserve">2</text>
<text transform="translate(221.90,1001.80) scale(1.0000,1)" font-size="27" font-weight="normal" font-style="normal" xml:space="preserve">3</text>
<text transform="translate(267.20,1001.80) scale(1.0000,1)" font-size="27" font-weight="normal" font-style="normal" xml:space="preserve">4</text>
<text transform="translate(313.70,1001.80) scale(1.0000,1)" font-size="27" font-weight="normal" font-style="normal" xml:space="preserve">5</text>
<text transform="translate(359.70,1001.80) scale(1.0000,1)" font-size="27" font-weight="normal" font-style="normal" xml:space="preserve">6</text>
<text transform="translate(405.50,1001.80) scale(1.0000,1)" font-size="27" font-weight="normal" font-style="normal" xml:space="preserve">7</text>
<line x1="125.6" y1="606" x2="125.6" y2="970" stroke="#111" stroke-width="2.0" stroke-dasharray="2 5.08" stroke-linecap="butt"/>
<text transform="translate(88.41,1034.60) scale(0.9938,1)" font-size="29.5" font-weight="normal" font-style="normal" xml:space="preserve">Density (ind. aquarium</text>
<text transform="translate(382.03,1022.35) scale(0.8667,1)" font-size="18.6" font-weight="normal" font-style="normal" xml:space="preserve">-1</text>
<text transform="translate(399.84,1034.60) scale(1.0071,1)" font-size="29.5" font-weight="normal" font-style="normal" xml:space="preserve">)</text>
<text transform="translate(16.60,872.00) rotate(-90) scale(1.0098,1)" font-size="19" font-weight="normal" font-style="normal" xml:space="preserve">f-SPI</text>
<text transform="translate(28.10,828.76) rotate(-90) scale(1.0583,1)" font-size="27.5" font-weight="normal" font-style="italic" xml:space="preserve">L</text>
<text transform="translate(34.40,813.20) rotate(-90) scale(1.0000,1)" font-size="19.5" font-weight="normal" font-style="normal" xml:space="preserve">max</text>
<text transform="translate(28.10,769.18) rotate(-90) scale(1.0882,1)" font-size="27.5" font-weight="normal" font-style="normal" xml:space="preserve">(cm)</text>
<line x1="148" y1="631" x2="266" y2="641.6" stroke="#EE6677" stroke-width="3.7" stroke-linecap="butt"/>
<line x1="148" y1="698" x2="407" y2="759" stroke="#228833" stroke-width="3.7" stroke-linecap="butt"/>
<line x1="148" y1="639" x2="363.6" y2="660" stroke="#4477AA" stroke-width="3.7" stroke-linecap="butt"/>
<line x1="147" y1="781" x2="407" y2="872" stroke="#CCBB44" stroke-width="3.7" stroke-linecap="butt"/>
<line x1="147" y1="763" x2="407" y2="852.4" stroke="#CCBB44" stroke-width="3.7" stroke-dasharray="7.2 6.8" stroke-linecap="butt"/>
<line x1="150" y1="709" x2="405" y2="766" stroke="#66CCEE" stroke-width="3.7" stroke-linecap="butt"/>
<line x1="161" y1="693" x2="320" y2="729" stroke="#66CCEE" stroke-width="3.7" stroke-dasharray="7.2 6.8" stroke-linecap="butt"/>
<line x1="148" y1="641.6" x2="407" y2="668" stroke="#AA3377" stroke-width="3.7" stroke-linecap="butt"/>
<line x1="148" y1="625" x2="407" y2="650" stroke="#AA3377" stroke-width="3.7" stroke-dasharray="7.2 6.8" stroke-linecap="butt"/>
<circle cx="98.0" cy="620.0" r="5.2" fill="#000000" stroke="#000" stroke-width="0.5" stroke-opacity="1.0"/>
<circle cx="98.7" cy="622.8" r="5.2" fill="#000000" stroke="#000" stroke-width="0.5" stroke-opacity="1.0"/>
<circle cx="97.1" cy="625.6" r="5.2" fill="#000000" stroke="#000" stroke-width="0.5" stroke-opacity="1.0"/>
<circle cx="98.5" cy="628.4" r="5.2" fill="#000000" stroke="#000" stroke-width="0.5" stroke-opacity="1.0"/>
<circle cx="98.2" cy="631.2" r="5.2" fill="#000000" stroke="#000" stroke-width="0.5" stroke-opacity="1.0"/>
<circle cx="97.2" cy="634.0" r="5.2" fill="#000000" stroke="#000" stroke-width="0.5" stroke-opacity="1.0"/>
<circle cx="98.8" cy="636.8" r="5.2" fill="#000000" stroke="#000" stroke-width="0.5" stroke-opacity="1.0"/>
<circle cx="97.7" cy="639.6" r="5.2" fill="#000000" stroke="#000" stroke-width="0.5" stroke-opacity="1.0"/>
<circle cx="97.6" cy="642.4" r="5.2" fill="#000000" stroke="#000" stroke-width="0.5" stroke-opacity="1.0"/>
<circle cx="98.9" cy="645.2" r="5.2" fill="#000000" stroke="#000" stroke-width="0.5" stroke-opacity="1.0"/>
<circle cx="97.2" cy="648.0" r="5.2" fill="#000000" stroke="#000" stroke-width="0.5" stroke-opacity="1.0"/>
<circle cx="98.0" cy="657.0" r="5.1" fill="#000000" stroke="#000" stroke-width="0.5" stroke-opacity="1.0"/>
<polygon points="109.6,616.4 116.7,627.6 102.5,627.6" fill="#000000" fill-opacity="0.35" stroke="#000" stroke-width="1.0" stroke-opacity="1.0" stroke-linejoin="miter"/>
<polygon points="109.6,620.4 116.7,631.6 102.5,631.6" fill="#000000" fill-opacity="0.35" stroke="#000" stroke-width="1.0" stroke-opacity="1.0" stroke-linejoin="miter"/>
<polygon points="109.6,624.4 116.7,635.6 102.5,635.6" fill="#000000" fill-opacity="0.35" stroke="#000" stroke-width="1.0" stroke-opacity="1.0" stroke-linejoin="miter"/>
<polygon points="109.6,628.4 116.7,639.6 102.5,639.6" fill="#000000" fill-opacity="0.35" stroke="#000" stroke-width="1.0" stroke-opacity="1.0" stroke-linejoin="miter"/>
<polygon points="109.6,632.4 116.7,643.6 102.5,643.6" fill="#000000" fill-opacity="0.35" stroke="#000" stroke-width="1.0" stroke-opacity="1.0" stroke-linejoin="miter"/>
<polygon points="109.6,636.4 116.7,647.6 102.5,647.6" fill="#000000" fill-opacity="0.35" stroke="#000" stroke-width="1.0" stroke-opacity="1.0" stroke-linejoin="miter"/>
<polygon points="109.6,640.4 116.7,651.6 102.5,651.6" fill="#000000" fill-opacity="0.35" stroke="#000" stroke-width="1.0" stroke-opacity="1.0" stroke-linejoin="miter"/>
<polygon points="109.6,656.4 116.7,667.6 102.5,667.6" fill="#000000" fill-opacity="0.35" stroke="#000" stroke-width="1.0" stroke-opacity="1.0" stroke-linejoin="miter"/>
<polygon points="109.6,663.4 116.7,674.6 102.5,674.6" fill="#000000" fill-opacity="0.35" stroke="#000" stroke-width="1.0" stroke-opacity="1.0" stroke-linejoin="miter"/>
<polygon points="109.6,702.4 116.7,713.6 102.5,713.6" fill="#000000" fill-opacity="0.35" stroke="#000" stroke-width="1.0" stroke-opacity="1.0" stroke-linejoin="miter"/>
<circle cx="136.0" cy="627.0" r="5.0" fill="#EE6677" stroke="#000" stroke-width="0.8" stroke-opacity="1.0"/>
<circle cx="136.0" cy="638.0" r="5.0" fill="#EE6677" stroke="#000" stroke-width="0.8" stroke-opacity="1.0"/>
<circle cx="182.0" cy="631.0" r="5.0" fill="#EE6677" stroke="#000" stroke-width="0.8" stroke-opacity="1.0"/>
<circle cx="182.0" cy="636.0" r="5.0" fill="#EE6677" stroke="#000" stroke-width="0.8" stroke-opacity="1.0"/>
<circle cx="225.0" cy="630.0" r="5.0" fill="#EE6677" stroke="#000" stroke-width="0.8" stroke-opacity="1.0"/>
<circle cx="225.0" cy="633.0" r="5.0" fill="#EE6677" stroke="#000" stroke-width="0.8" stroke-opacity="1.0"/>
<circle cx="224.0" cy="636.0" r="5.0" fill="#EE6677" stroke="#000" stroke-width="0.8" stroke-opacity="1.0"/>
<circle cx="271.6" cy="627.0" r="5.0" fill="#EE6677" stroke="#000" stroke-width="0.8" stroke-opacity="1.0"/>
<circle cx="271.6" cy="641.6" r="5.0" fill="#EE6677" stroke="#000" stroke-width="0.8" stroke-opacity="1.0"/>
<circle cx="271.6" cy="649.6" r="5.0" fill="#EE6677" stroke="#000" stroke-width="0.8" stroke-opacity="1.0"/>
<circle cx="142.0" cy="625.0" r="5.0" fill="#4477AA" stroke="#000" stroke-width="0.8" stroke-opacity="1.0"/>
<circle cx="142.0" cy="630.0" r="5.0" fill="#4477AA" stroke="#000" stroke-width="0.8" stroke-opacity="1.0"/>
<circle cx="187.6" cy="623.0" r="5.0" fill="#4477AA" stroke="#000" stroke-width="0.8" stroke-opacity="1.0"/>
<circle cx="188.0" cy="638.0" r="5.0" fill="#4477AA" stroke="#000" stroke-width="0.8" stroke-opacity="1.0"/>
<circle cx="188.0" cy="645.0" r="5.0" fill="#4477AA" stroke="#000" stroke-width="0.8" stroke-opacity="1.0"/>
<circle cx="228.0" cy="658.0" r="5.0" fill="#4477AA" stroke="#000" stroke-width="0.8" stroke-opacity="1.0"/>
<circle cx="187.6" cy="702.0" r="5.0" fill="#4477AA" stroke="#000" stroke-width="0.8" stroke-opacity="1.0"/>
<circle cx="313.6" cy="642.4" r="5.0" fill="#4477AA" stroke="#000" stroke-width="0.8" stroke-opacity="1.0"/>
<circle cx="313.6" cy="652.4" r="5.0" fill="#4477AA" stroke="#000" stroke-width="0.8" stroke-opacity="1.0"/>
<circle cx="363.0" cy="633.6" r="5.0" fill="#4477AA" stroke="#000" stroke-width="0.8" stroke-opacity="1.0"/>
<circle cx="139.0" cy="638.0" r="5.0" fill="#228833" stroke="#000" stroke-width="0.8" stroke-opacity="1.0"/>
<circle cx="226.0" cy="621.6" r="5.0" fill="#228833" stroke="#000" stroke-width="0.8" stroke-opacity="1.0"/>
<circle cx="139.6" cy="724.0" r="5.0" fill="#228833" stroke="#000" stroke-width="0.8" stroke-opacity="1.0"/>
<circle cx="226.4" cy="726.0" r="5.0" fill="#228833" stroke="#000" stroke-width="0.8" stroke-opacity="1.0"/>
<circle cx="311.0" cy="647.0" r="5.0" fill="#228833" stroke="#000" stroke-width="0.8" stroke-opacity="1.0"/>
<circle cx="310.4" cy="658.0" r="5.0" fill="#228833" stroke="#000" stroke-width="0.8" stroke-opacity="1.0"/>
<circle cx="398.0" cy="747.0" r="5.0" fill="#228833" stroke="#000" stroke-width="0.8" stroke-opacity="1.0"/>
<circle cx="226.4" cy="811.0" r="5.0" fill="#228833" stroke="#000" stroke-width="0.8" stroke-opacity="1.0"/>
<circle cx="310.4" cy="819.6" r="5.0" fill="#228833" stroke="#000" stroke-width="0.8" stroke-opacity="1.0"/>
<circle cx="397.6" cy="830.0" r="5.0" fill="#228833" stroke="#000" stroke-width="0.8" stroke-opacity="1.0"/>
<circle cx="397.0" cy="850.4" r="5.0" fill="#228833" stroke="#000" stroke-width="0.8" stroke-opacity="1.0"/>
<circle cx="145.0" cy="749.0" r="5.0" fill="#CCBB44" stroke="#000" stroke-width="0.8" stroke-opacity="1.0"/>
<circle cx="229.0" cy="757.0" r="5.0" fill="#CCBB44" stroke="#000" stroke-width="0.8" stroke-opacity="1.0"/>
<circle cx="229.0" cy="779.0" r="5.0" fill="#CCBB44" stroke="#000" stroke-width="0.8" stroke-opacity="1.0"/>
<circle cx="144.4" cy="807.0" r="5.0" fill="#CCBB44" stroke="#000" stroke-width="0.8" stroke-opacity="1.0"/>
<circle cx="144.4" cy="901.0" r="5.0" fill="#CCBB44" stroke="#000" stroke-width="0.8" stroke-opacity="1.0"/>
<circle cx="231.0" cy="852.4" r="5.0" fill="#CCBB44" stroke="#000" stroke-width="0.8" stroke-opacity="1.0"/>
<circle cx="316.4" cy="791.6" r="5.0" fill="#CCBB44" stroke="#000" stroke-width="0.8" stroke-opacity="1.0"/>
<circle cx="316.0" cy="919.0" r="5.0" fill="#CCBB44" stroke="#000" stroke-width="0.8" stroke-opacity="1.0"/>
<circle cx="401.0" cy="857.4" r="5.0" fill="#CCBB44" stroke="#000" stroke-width="0.8" stroke-opacity="1.0"/>
<circle cx="401.0" cy="877.0" r="5.0" fill="#CCBB44" stroke="#000" stroke-width="0.8" stroke-opacity="1.0"/>
<circle cx="401.0" cy="902.4" r="5.0" fill="#CCBB44" stroke="#000" stroke-width="0.8" stroke-opacity="1.0"/>
<circle cx="149.6" cy="682.0" r="5.0" fill="#66CCEE" stroke="#000" stroke-width="0.8" stroke-opacity="1.0"/>
<circle cx="149.6" cy="691.0" r="5.0" fill="#66CCEE" stroke="#000" stroke-width="0.8" stroke-opacity="1.0"/>
<circle cx="149.6" cy="706.0" r="5.0" fill="#66CCEE" stroke="#000" stroke-width="0.8" stroke-opacity="1.0"/>
<circle cx="149.6" cy="715.0" r="5.0" fill="#66CCEE" stroke="#000" stroke-width="0.8" stroke-opacity="1.0"/>
<circle cx="193.0" cy="759.0" r="5.0" fill="#66CCEE" stroke="#000" stroke-width="0.8" stroke-opacity="1.0"/>
<circle cx="236.0" cy="631.0" r="5.0" fill="#66CCEE" stroke="#000" stroke-width="0.8" stroke-opacity="1.0"/>
<circle cx="236.4" cy="743.0" r="5.0" fill="#66CCEE" stroke="#000" stroke-width="0.8" stroke-opacity="1.0"/>
<circle cx="236.0" cy="773.6" r="5.0" fill="#66CCEE" stroke="#000" stroke-width="0.8" stroke-opacity="1.0"/>
<circle cx="321.6" cy="800.0" r="5.0" fill="#66CCEE" stroke="#000" stroke-width="0.8" stroke-opacity="1.0"/>
<circle cx="408.0" cy="767.6" r="5.0" fill="#66CCEE" stroke="#000" stroke-width="0.8" stroke-opacity="1.0"/>
<circle cx="408.4" cy="795.6" r="5.0" fill="#66CCEE" stroke="#000" stroke-width="0.8" stroke-opacity="1.0"/>
<circle cx="155.0" cy="627.0" r="5.0" fill="#AA3377" stroke="#000" stroke-width="0.8" stroke-opacity="1.0"/>
<circle cx="155.0" cy="636.0" r="5.0" fill="#AA3377" stroke="#000" stroke-width="0.8" stroke-opacity="1.0"/>
<circle cx="241.0" cy="628.0" r="5.0" fill="#AA3377" stroke="#000" stroke-width="0.8" stroke-opacity="1.0"/>
<circle cx="241.0" cy="648.0" r="5.0" fill="#AA3377" stroke="#000" stroke-width="0.8" stroke-opacity="1.0"/>
<circle cx="327.0" cy="653.0" r="5.0" fill="#AA3377" stroke="#000" stroke-width="0.8" stroke-opacity="1.0"/>
<circle cx="412.0" cy="637.0" r="5.0" fill="#AA3377" stroke="#000" stroke-width="0.8" stroke-opacity="1.0"/>
<circle cx="412.0" cy="651.0" r="5.0" fill="#AA3377" stroke="#000" stroke-width="0.8" stroke-opacity="1.0"/>
<polygon points="146.0,621.4 153.1,632.6 138.9,632.6" fill="#CCBB44" fill-opacity="0.45" stroke="#000" stroke-width="1.0" stroke-opacity="1.0" stroke-linejoin="miter"/>
<polygon points="147.0,743.4 154.1,754.6 139.9,754.6" fill="#CCBB44" fill-opacity="0.45" stroke="#000" stroke-width="1.0" stroke-opacity="1.0" stroke-linejoin="miter"/>
<polygon points="147.0,784.4 154.1,795.6 139.9,795.6" fill="#CCBB44" fill-opacity="0.45" stroke="#000" stroke-width="1.0" stroke-opacity="1.0" stroke-linejoin="miter"/>
<polygon points="233.6,785.4 240.7,796.6 226.5,796.6" fill="#CCBB44" fill-opacity="0.45" stroke="#000" stroke-width="1.0" stroke-opacity="1.0" stroke-linejoin="miter"/>
<polygon points="233.6,844.4 240.7,855.6 226.5,855.6" fill="#CCBB44" fill-opacity="0.45" stroke="#000" stroke-width="1.0" stroke-opacity="1.0" stroke-linejoin="miter"/>
<polygon points="233.6,865.4 240.7,876.6 226.5,876.6" fill="#CCBB44" fill-opacity="0.45" stroke="#000" stroke-width="1.0" stroke-opacity="1.0" stroke-linejoin="miter"/>
<polygon points="318.0,790.4 325.1,801.6 310.9,801.6" fill="#CCBB44" fill-opacity="0.45" stroke="#000" stroke-width="1.0" stroke-opacity="1.0" stroke-linejoin="miter"/>
<polygon points="319.0,821.4 326.1,832.6 311.9,832.6" fill="#CCBB44" fill-opacity="0.45" stroke="#000" stroke-width="1.0" stroke-opacity="1.0" stroke-linejoin="miter"/>
<polygon points="404.0,787.4 411.1,798.6 396.9,798.6" fill="#CCBB44" fill-opacity="0.45" stroke="#000" stroke-width="1.0" stroke-opacity="1.0" stroke-linejoin="miter"/>
<polygon points="405.0,804.4 412.1,815.6 397.9,815.6" fill="#CCBB44" fill-opacity="0.45" stroke="#000" stroke-width="1.0" stroke-opacity="1.0" stroke-linejoin="miter"/>
<polygon points="405.6,840.0 412.7,851.2 398.5,851.2" fill="#CCBB44" fill-opacity="0.45" stroke="#000" stroke-width="1.0" stroke-opacity="1.0" stroke-linejoin="miter"/>
<polygon points="157.0,620.4 164.1,631.6 149.9,631.6" fill="#AA3377" fill-opacity="0.45" stroke="#000" stroke-width="1.0" stroke-opacity="1.0" stroke-linejoin="miter"/>
<polygon points="157.0,625.4 164.1,636.6 149.9,636.6" fill="#AA3377" fill-opacity="0.45" stroke="#000" stroke-width="1.0" stroke-opacity="1.0" stroke-linejoin="miter"/>
<polygon points="156.0,657.4 163.1,668.6 148.9,668.6" fill="#AA3377" fill-opacity="0.45" stroke="#000" stroke-width="1.0" stroke-opacity="1.0" stroke-linejoin="miter"/>
<polygon points="243.6,621.4 250.7,632.6 236.5,632.6" fill="#AA3377" fill-opacity="0.45" stroke="#000" stroke-width="1.0" stroke-opacity="1.0" stroke-linejoin="miter"/>
<polygon points="243.6,644.4 250.7,655.6 236.5,655.6" fill="#AA3377" fill-opacity="0.45" stroke="#000" stroke-width="1.0" stroke-opacity="1.0" stroke-linejoin="miter"/>
<polygon points="243.6,678.4 250.7,689.6 236.5,689.6" fill="#AA3377" fill-opacity="0.45" stroke="#000" stroke-width="1.0" stroke-opacity="1.0" stroke-linejoin="miter"/>
<polygon points="330.0,625.4 337.1,636.6 322.9,636.6" fill="#AA3377" fill-opacity="0.45" stroke="#000" stroke-width="1.0" stroke-opacity="1.0" stroke-linejoin="miter"/>
<polygon points="330.0,631.4 337.1,642.6 322.9,642.6" fill="#AA3377" fill-opacity="0.45" stroke="#000" stroke-width="1.0" stroke-opacity="1.0" stroke-linejoin="miter"/>
<polygon points="330.0,643.4 337.1,654.6 322.9,654.6" fill="#AA3377" fill-opacity="0.45" stroke="#000" stroke-width="1.0" stroke-opacity="1.0" stroke-linejoin="miter"/>
<polygon points="415.6,630.4 422.7,641.6 408.5,641.6" fill="#AA3377" fill-opacity="0.45" stroke="#000" stroke-width="1.0" stroke-opacity="1.0" stroke-linejoin="miter"/>
<polygon points="415.6,644.0 422.7,655.2 408.5,655.2" fill="#AA3377" fill-opacity="0.45" stroke="#000" stroke-width="1.0" stroke-opacity="1.0" stroke-linejoin="miter"/>
<polygon points="415.6,684.4 422.7,695.6 408.5,695.6" fill="#AA3377" fill-opacity="0.45" stroke="#000" stroke-width="1.0" stroke-opacity="1.0" stroke-linejoin="miter"/>
<polygon points="152.0,669.4 159.1,680.6 144.9,680.6" fill="#66CCEE" fill-opacity="0.45" stroke="#000" stroke-width="1.0" stroke-opacity="1.0" stroke-linejoin="miter"/>
<polygon points="152.0,677.4 159.1,688.6 144.9,688.6" fill="#66CCEE" fill-opacity="0.45" stroke="#000" stroke-width="1.0" stroke-opacity="1.0" stroke-linejoin="miter"/>
<polygon points="152.0,716.4 159.1,727.6 144.9,727.6" fill="#66CCEE" fill-opacity="0.45" stroke="#000" stroke-width="1.0" stroke-opacity="1.0" stroke-linejoin="miter"/>
<polygon points="198.0,689.4 205.1,700.6 190.9,700.6" fill="#66CCEE" fill-opacity="0.45" stroke="#000" stroke-width="1.0" stroke-opacity="1.0" stroke-linejoin="miter"/>
<polygon points="239.0,709.4 246.1,720.6 231.9,720.6" fill="#66CCEE" fill-opacity="0.45" stroke="#000" stroke-width="1.0" stroke-opacity="1.0" stroke-linejoin="miter"/>
<polygon points="239.0,733.4 246.1,744.6 231.9,744.6" fill="#66CCEE" fill-opacity="0.45" stroke="#000" stroke-width="1.0" stroke-opacity="1.0" stroke-linejoin="miter"/>
<polygon points="239.0,749.4 246.1,760.6 231.9,760.6" fill="#66CCEE" fill-opacity="0.45" stroke="#000" stroke-width="1.0" stroke-opacity="1.0" stroke-linejoin="miter"/>
<polygon points="282.4,758.4 289.5,769.6 275.3,769.6" fill="#66CCEE" fill-opacity="0.45" stroke="#000" stroke-width="1.0" stroke-opacity="1.0" stroke-linejoin="miter"/>
<polygon points="324.0,638.4 331.1,649.6 316.9,649.6" fill="#66CCEE" fill-opacity="0.45" stroke="#000" stroke-width="1.0" stroke-opacity="1.0" stroke-linejoin="miter"/>
<polygon points="324.4,670.0 331.5,681.2 317.3,681.2" fill="#66CCEE" fill-opacity="0.45" stroke="#000" stroke-width="1.0" stroke-opacity="1.0" stroke-linejoin="miter"/>
<polygon points="324.4,693.4 331.5,704.6 317.3,704.6" fill="#66CCEE" fill-opacity="0.45" stroke="#000" stroke-width="1.0" stroke-opacity="1.0" stroke-linejoin="miter"/>
<text transform="translate(1035.74,368.20) scale(1.0627,1)" font-size="21.5" font-weight="normal" font-style="normal" xml:space="preserve">Species</text>
<circle cx="1043.5" cy="396.3" r="6.3" fill="#000000" stroke="#000" stroke-width="0.8" stroke-opacity="1.0"/>
<text transform="translate(1077.85,403.40) scale(1.0500,1)" font-size="20" font-weight="normal" font-style="normal" xml:space="preserve">Control</text>
<circle cx="1043.5" cy="423.5" r="6.0" fill="#EE6677" stroke="#000" stroke-width="0.8" stroke-opacity="1.0"/>
<text transform="translate(1075.95,430.60) scale(1.0464,1)" font-size="20" font-weight="normal" font-style="italic" xml:space="preserve">P. elongata</text>
<circle cx="1043.5" cy="452.0" r="6.0" fill="#228833" stroke="#000" stroke-width="0.8" stroke-opacity="1.0"/>
<text transform="translate(1075.65,459.10) scale(1.0532,1)" font-size="20" font-weight="normal" font-style="italic" xml:space="preserve">E. claparedii</text>
<circle cx="1043.5" cy="480.7" r="6.0" fill="#4477AA" stroke="#000" stroke-width="0.8" stroke-opacity="1.0"/>
<text transform="translate(1075.65,487.80) scale(1.0494,1)" font-size="20" font-weight="normal" font-style="italic" xml:space="preserve">S. scutata</text>
<circle cx="1043.5" cy="509.1" r="6.0" fill="#CCBB44" stroke="#000" stroke-width="0.8" stroke-opacity="1.0"/>
<text transform="translate(1077.52,516.20) scale(1.0181,1)" font-size="20" font-weight="normal" font-style="italic" xml:space="preserve">A. chiajei</text>
<circle cx="1043.5" cy="537.7" r="6.0" fill="#66CCEE" stroke="#000" stroke-width="0.8" stroke-opacity="1.0"/>
<text transform="translate(1075.65,544.80) scale(1.0469,1)" font-size="20" font-weight="normal" font-style="italic" xml:space="preserve">N. hombergii</text>
<circle cx="1043.5" cy="566.0" r="6.0" fill="#AA3377" stroke="#000" stroke-width="0.8" stroke-opacity="1.0"/>
<text transform="translate(1076.84,573.10) scale(1.0318,1)" font-size="20" font-weight="normal" font-style="italic" xml:space="preserve">T. tricarinata</text>
<text transform="translate(1038.24,649.30) scale(1.0634,1)" font-size="21.5" font-weight="normal" font-style="normal" xml:space="preserve">Climate</text>
<circle cx="1046.4" cy="679.4" r="5.5" fill="#000"/>
<line x1="1067.8" y1="679.4" x2="1113.2" y2="679.4" stroke="#000000" stroke-width="3.2" stroke-linecap="butt"/>
<text transform="translate(1123.50,685.90) scale(1.0750,1)" font-size="19.5" font-weight="normal" font-style="normal" xml:space="preserve">Ambient</text>
<polygon points="1046.7,704 1054.2,715.8 1039.2,715.8" fill="#000"/>
<line x1="1068.6" y1="709.5" x2="1112.9" y2="709.5" stroke="#000000" stroke-width="3.2" stroke-dasharray="8.7 3.17" stroke-linecap="butt"/>
<text transform="translate(1122.44,714.40) scale(1.0778,1)" font-size="19.5" font-weight="normal" font-style="normal" xml:space="preserve">Future</text>
<text transform="translate(579.04,570.70) scale(1.0625,1)" font-size="31" font-weight="bold" font-style="normal" xml:space="preserve">d</text>
<path d="M634.0,608.0 C635.0,610.0 638.0,616.0 640.0,620.0 C642.0,624.0 644.1,628.2 646.0,632.0 C647.9,635.8 650.0,638.0 651.6,643.0 C653.2,648.0 655.2,656.4 655.4,662.0 C655.5,667.6 653.3,671.7 652.5,676.5 C651.7,681.3 650.7,687.1 650.6,691.0 C650.5,694.9 651.3,696.6 652.0,700.0 C652.7,703.4 652.5,707.8 655.0,711.5 C657.5,715.2 662.8,718.9 666.7,722.0 C670.6,725.1 672.5,726.7 678.3,730.0 C684.1,733.3 694.9,738.5 701.7,741.8 C708.5,745.1 713.8,746.9 719.2,750.0 C724.6,753.1 730.6,757.2 734.3,760.5 C738.0,763.8 740.1,767.6 741.3,770.0 C742.5,772.4 742.1,773.3 741.5,775.0 C740.9,776.7 740.1,777.7 737.5,780.0 C734.9,782.3 730.1,785.7 725.8,789.0 C721.5,792.3 717.8,796.3 711.8,800.0 C705.8,803.7 696.4,807.9 690.0,811.0 C683.6,814.1 680.2,815.4 673.6,818.4 C667.0,821.4 657.0,824.4 650.6,829.0 C644.2,833.6 638.7,840.1 635.3,846.0 C631.9,851.9 631.0,858.6 630.0,864.3 C629.0,870.0 629.2,864.0 629.0,880.0 C628.8,896.0 628.8,946.7 628.8,960.0 L628.6,960 L628.6,608 Z" fill="#EE6677" fill-opacity="0.1" stroke="none"/>
<path d="M634.0,608.0 C635.0,610.0 638.0,616.0 640.0,620.0 C642.0,624.0 644.1,628.2 646.0,632.0 C647.9,635.8 650.0,638.0 651.6,643.0 C653.2,648.0 655.2,656.4 655.4,662.0 C655.5,667.6 653.3,671.7 652.5,676.5 C651.7,681.3 650.7,687.1 650.6,691.0 C650.5,694.9 651.3,696.6 652.0,700.0 C652.7,703.4 652.5,707.8 655.0,711.5 C657.5,715.2 662.8,718.9 666.7,722.0 C670.6,725.1 672.5,726.7 678.3,730.0 C684.1,733.3 694.9,738.5 701.7,741.8 C708.5,745.1 713.8,746.9 719.2,750.0 C724.6,753.1 730.6,757.2 734.3,760.5 C738.0,763.8 740.1,767.6 741.3,770.0 C742.5,772.4 742.1,773.3 741.5,775.0 C740.9,776.7 740.1,777.7 737.5,780.0 C734.9,782.3 730.1,785.7 725.8,789.0 C721.5,792.3 717.8,796.3 711.8,800.0 C705.8,803.7 696.4,807.9 690.0,811.0 C683.6,814.1 680.2,815.4 673.6,818.4 C667.0,821.4 657.0,824.4 650.6,829.0 C644.2,833.6 638.7,840.1 635.3,846.0 C631.9,851.9 631.0,858.6 630.0,864.3 C629.0,870.0 629.2,864.0 629.0,880.0 C628.8,896.0 628.8,946.7 628.8,960.0" fill="none" stroke="#EE6677" stroke-width="2.8" stroke-linejoin="round"/>
<path d="M636.7,608.0 C637.9,611.5 641.2,621.3 644.0,628.7 C646.8,636.1 650.7,645.4 653.5,652.6 C656.3,659.8 658.9,666.6 661.0,671.8 C663.1,677.0 664.3,678.8 666.0,684.0 C667.7,689.2 669.8,697.2 671.3,703.3 C672.8,709.4 674.3,713.0 674.8,720.8 C675.3,728.6 674.7,740.1 674.3,750.0 C673.9,759.9 673.1,771.7 672.5,780.0 C671.9,788.3 670.8,792.8 670.5,800.0 C670.2,807.2 670.8,815.3 670.5,823.0 C670.2,830.7 670.3,839.1 669.0,846.0 C667.7,852.9 666.0,856.7 662.9,864.3 C659.8,871.9 654.4,882.1 650.6,891.8 C646.8,901.5 642.7,913.3 639.9,922.5 C637.1,931.7 635.1,940.8 633.8,947.0 C632.5,953.2 632.3,957.8 632.0,960.0 L628.6,960 L628.6,608 Z" fill="#228833" fill-opacity="0.1" stroke="none"/>
<path d="M636.7,608.0 C637.9,611.5 641.2,621.3 644.0,628.7 C646.8,636.1 650.7,645.4 653.5,652.6 C656.3,659.8 658.9,666.6 661.0,671.8 C663.1,677.0 664.3,678.8 666.0,684.0 C667.7,689.2 669.8,697.2 671.3,703.3 C672.8,709.4 674.3,713.0 674.8,720.8 C675.3,728.6 674.7,740.1 674.3,750.0 C673.9,759.9 673.1,771.7 672.5,780.0 C671.9,788.3 670.8,792.8 670.5,800.0 C670.2,807.2 670.8,815.3 670.5,823.0 C670.2,830.7 670.3,839.1 669.0,846.0 C667.7,852.9 666.0,856.7 662.9,864.3 C659.8,871.9 654.4,882.1 650.6,891.8 C646.8,901.5 642.7,913.3 639.9,922.5 C637.1,931.7 635.1,940.8 633.8,947.0 C632.5,953.2 632.3,957.8 632.0,960.0" fill="none" stroke="#228833" stroke-width="2.8" stroke-linejoin="round"/>
<path d="M635.8,608.0 C637.2,613.0 641.4,629.0 644.0,638.0 C646.6,647.0 649.8,655.0 651.6,662.0 C653.4,669.0 653.8,673.1 655.0,680.0 C656.2,686.9 657.8,695.5 659.0,703.3 C660.2,711.1 661.4,720.5 662.0,726.7 C662.6,732.9 662.4,731.8 662.6,740.7 C662.8,749.6 662.6,770.1 663.2,780.0 C663.8,789.9 665.2,791.6 666.0,800.0 C666.8,808.4 667.6,821.7 668.2,830.6 C668.8,839.5 669.6,847.2 669.7,853.6 C669.8,860.0 669.9,862.5 669.0,868.9 C668.1,875.3 666.7,882.9 664.4,891.8 C662.1,900.7 658.3,912.8 655.2,922.5 C652.1,932.2 647.9,943.8 646.0,950.0 C644.1,956.2 644.3,958.3 644.0,960.0 L628.6,960 L628.6,608 Z" fill="#4477AA" fill-opacity="0.1" stroke="none"/>
<path d="M635.8,608.0 C637.2,613.0 641.4,629.0 644.0,638.0 C646.6,647.0 649.8,655.0 651.6,662.0 C653.4,669.0 653.8,673.1 655.0,680.0 C656.2,686.9 657.8,695.5 659.0,703.3 C660.2,711.1 661.4,720.5 662.0,726.7 C662.6,732.9 662.4,731.8 662.6,740.7 C662.8,749.6 662.6,770.1 663.2,780.0 C663.8,789.9 665.2,791.6 666.0,800.0 C666.8,808.4 667.6,821.7 668.2,830.6 C668.8,839.5 669.6,847.2 669.7,853.6 C669.8,860.0 669.9,862.5 669.0,868.9 C668.1,875.3 666.7,882.9 664.4,891.8 C662.1,900.7 658.3,912.8 655.2,922.5 C652.1,932.2 647.9,943.8 646.0,950.0 C644.1,956.2 644.3,958.3 644.0,960.0" fill="none" stroke="#4477AA" stroke-width="2.8" stroke-linejoin="round"/>
<path d="M628.8,608.0 C628.8,613.3 628.9,631.8 629.0,640.0 C629.1,648.2 628.9,650.9 629.5,657.0 C630.1,663.1 631.4,669.8 632.4,676.5 C633.4,683.2 633.4,690.7 635.2,697.5 C637.0,704.3 640.2,711.1 643.3,717.3 C646.4,723.5 649.9,730.7 653.8,734.8 C657.7,738.9 660.7,738.7 666.7,741.8 C672.7,744.9 682.2,749.8 690.0,753.5 C697.8,757.2 705.5,760.9 713.3,764.0 C721.1,767.1 730.9,769.9 736.7,772.2 C742.5,774.5 745.1,775.9 748.0,778.0 C750.9,780.1 752.8,782.7 754.0,785.0 C755.2,787.3 755.5,789.5 755.5,792.0 C755.5,794.5 755.1,797.7 754.0,800.0 C752.9,802.3 751.3,804.3 749.0,806.0 C746.7,807.7 744.8,808.4 740.0,810.0 C735.2,811.6 726.7,813.2 720.0,815.5 C713.3,817.8 706.7,820.2 700.0,824.0 C693.3,827.8 685.7,834.1 680.0,838.0 C674.3,841.9 671.4,844.1 666.0,847.5 C660.6,850.9 652.2,853.9 647.6,858.2 C643.0,862.5 640.3,867.9 638.4,873.5 C636.5,879.1 636.1,884.9 636.0,891.8 C635.9,898.7 637.5,908.9 637.6,914.8 C637.7,920.7 637.6,921.9 636.8,927.0 C636.0,932.1 634.2,939.9 633.0,945.4 C631.8,950.9 630.1,957.6 629.5,960.0 L628.6,960 L628.6,608 Z" fill="#111" fill-opacity="0.1" stroke="none"/>
<path d="M628.8,608.0 C628.8,613.3 628.9,631.8 629.0,640.0 C629.1,648.2 628.9,650.9 629.5,657.0 C630.1,663.1 631.4,669.8 632.4,676.5 C633.4,683.2 633.4,690.7 635.2,697.5 C637.0,704.3 640.2,711.1 643.3,717.3 C646.4,723.5 649.9,730.7 653.8,734.8 C657.7,738.9 660.7,738.7 666.7,741.8 C672.7,744.9 682.2,749.8 690.0,753.5 C697.8,757.2 705.5,760.9 713.3,764.0 C721.1,767.1 730.9,769.9 736.7,772.2 C742.5,774.5 745.1,775.9 748.0,778.0 C750.9,780.1 752.8,782.7 754.0,785.0 C755.2,787.3 755.5,789.5 755.5,792.0 C755.5,794.5 755.1,797.7 754.0,800.0 C752.9,802.3 751.3,804.3 749.0,806.0 C746.7,807.7 744.8,808.4 740.0,810.0 C735.2,811.6 726.7,813.2 720.0,815.5 C713.3,817.8 706.7,820.2 700.0,824.0 C693.3,827.8 685.7,834.1 680.0,838.0 C674.3,841.9 671.4,844.1 666.0,847.5 C660.6,850.9 652.2,853.9 647.6,858.2 C643.0,862.5 640.3,867.9 638.4,873.5 C636.5,879.1 636.1,884.9 636.0,891.8 C635.9,898.7 637.5,908.9 637.6,914.8 C637.7,920.7 637.6,921.9 636.8,927.0 C636.0,932.1 634.2,939.9 633.0,945.4 C631.8,950.9 630.1,957.6 629.5,960.0" fill="none" stroke="#111" stroke-width="2.8" stroke-linejoin="round"/>
<path d="M628.8,608.0 C628.9,610.8 629.2,620.3 629.5,625.0 C629.8,629.7 629.4,631.0 630.5,636.4 C631.6,641.8 634.4,650.7 636.3,657.4 C638.2,664.1 640.2,669.8 642.0,676.5 C643.8,683.2 645.4,689.6 646.8,697.6 C648.2,705.6 649.1,717.9 650.3,724.3 C651.5,730.7 650.5,730.9 653.8,736.0 C657.1,741.1 664.2,749.7 670.2,754.7 C676.2,759.8 682.8,762.6 690.0,766.3 C697.2,770.0 705.8,773.5 713.3,776.8 C720.8,780.1 728.9,783.0 735.0,786.0 C741.1,789.0 746.3,792.2 750.0,795.0 C753.7,797.8 755.8,800.9 757.0,803.0 C758.2,805.1 757.6,806.2 757.3,807.7 C757.0,809.2 758.3,810.0 755.0,812.3 C751.7,814.6 743.3,818.8 737.5,821.7 C731.7,824.6 726.8,827.3 720.0,829.8 C713.2,832.3 705.5,833.2 696.5,836.7 C687.5,840.2 674.1,846.4 666.0,850.5 C657.9,854.6 652.5,857.4 647.6,861.2 C642.7,865.0 639.4,869.4 636.8,873.5 C634.2,877.6 633.3,881.6 632.2,885.7 C631.1,889.8 630.5,890.6 630.0,898.0 C629.5,905.4 629.2,919.7 629.0,930.0 C628.8,940.3 628.8,955.0 628.8,960.0 L628.6,960 L628.6,608 Z" fill="#111" fill-opacity="0.1" stroke="none"/>
<path d="M628.8,608.0 C628.9,610.8 629.2,620.3 629.5,625.0 C629.8,629.7 629.4,631.0 630.5,636.4 C631.6,641.8 634.4,650.7 636.3,657.4 C638.2,664.1 640.2,669.8 642.0,676.5 C643.8,683.2 645.4,689.6 646.8,697.6 C648.2,705.6 649.1,717.9 650.3,724.3 C651.5,730.7 650.5,730.9 653.8,736.0 C657.1,741.1 664.2,749.7 670.2,754.7 C676.2,759.8 682.8,762.6 690.0,766.3 C697.2,770.0 705.8,773.5 713.3,776.8 C720.8,780.1 728.9,783.0 735.0,786.0 C741.1,789.0 746.3,792.2 750.0,795.0 C753.7,797.8 755.8,800.9 757.0,803.0 C758.2,805.1 757.6,806.2 757.3,807.7 C757.0,809.2 758.3,810.0 755.0,812.3 C751.7,814.6 743.3,818.8 737.5,821.7 C731.7,824.6 726.8,827.3 720.0,829.8 C713.2,832.3 705.5,833.2 696.5,836.7 C687.5,840.2 674.1,846.4 666.0,850.5 C657.9,854.6 652.5,857.4 647.6,861.2 C642.7,865.0 639.4,869.4 636.8,873.5 C634.2,877.6 633.3,881.6 632.2,885.7 C631.1,889.8 630.5,890.6 630.0,898.0 C629.5,905.4 629.2,919.7 629.0,930.0 C628.8,940.3 628.8,955.0 628.8,960.0" fill="none" stroke="#111" stroke-width="2.8" stroke-dasharray="7 4" stroke-linejoin="round"/>
<path d="M628.8,608.0 C628.9,611.1 629.0,621.0 629.6,626.8 C630.2,632.6 630.5,636.6 632.4,643.0 C634.3,649.4 637.8,658.1 641.0,665.0 C644.2,671.9 649.1,678.8 651.6,684.2 C654.1,689.6 655.1,692.4 656.2,697.5 C657.3,702.6 657.6,709.2 658.0,715.0 C658.4,720.8 657.5,727.8 658.5,732.5 C659.5,737.2 659.0,738.4 664.3,743.0 C669.5,747.6 681.5,755.0 690.0,760.0 C698.5,765.0 707.5,769.0 715.0,773.0 C722.5,777.0 730.9,781.2 735.2,784.3 C739.5,787.3 739.1,788.6 741.0,791.3 C742.9,794.0 746.3,797.6 746.3,800.7 C746.3,803.8 746.8,805.6 741.0,810.0 C735.2,814.4 722.0,822.1 711.8,826.8 C701.6,831.5 688.6,834.5 680.0,838.0 C671.4,841.5 665.9,844.9 660.0,848.0 C654.1,851.1 648.6,853.1 644.5,856.6 C640.4,860.1 637.6,864.5 635.3,868.9 C633.0,873.2 631.7,877.6 630.7,882.7 C629.7,887.8 629.8,886.6 629.5,899.5 C629.2,912.4 628.9,949.9 628.8,960.0 L628.6,960 L628.6,608 Z" fill="#66CCEE" fill-opacity="0.1" stroke="none"/>
<path d="M628.8,608.0 C628.9,611.1 629.0,621.0 629.6,626.8 C630.2,632.6 630.5,636.6 632.4,643.0 C634.3,649.4 637.8,658.1 641.0,665.0 C644.2,671.9 649.1,678.8 651.6,684.2 C654.1,689.6 655.1,692.4 656.2,697.5 C657.3,702.6 657.6,709.2 658.0,715.0 C658.4,720.8 657.5,727.8 658.5,732.5 C659.5,737.2 659.0,738.4 664.3,743.0 C669.5,747.6 681.5,755.0 690.0,760.0 C698.5,765.0 707.5,769.0 715.0,773.0 C722.5,777.0 730.9,781.2 735.2,784.3 C739.5,787.3 739.1,788.6 741.0,791.3 C742.9,794.0 746.3,797.6 746.3,800.7 C746.3,803.8 746.8,805.6 741.0,810.0 C735.2,814.4 722.0,822.1 711.8,826.8 C701.6,831.5 688.6,834.5 680.0,838.0 C671.4,841.5 665.9,844.9 660.0,848.0 C654.1,851.1 648.6,853.1 644.5,856.6 C640.4,860.1 637.6,864.5 635.3,868.9 C633.0,873.2 631.7,877.6 630.7,882.7 C629.7,887.8 629.8,886.6 629.5,899.5 C629.2,912.4 628.9,949.9 628.8,960.0" fill="none" stroke="#66CCEE" stroke-width="2.8" stroke-dasharray="7 4" stroke-linejoin="round"/>
<path d="M632.4,608.0 C633.5,612.2 637.4,625.3 639.0,633.5 C640.6,641.7 642.0,650.2 642.0,657.4 C642.0,664.6 640.1,670.1 639.0,676.5 C637.9,682.9 635.9,689.7 635.3,695.7 C634.7,701.7 634.5,707.9 635.2,712.7 C636.0,717.5 636.5,720.0 639.8,724.3 C643.1,728.6 648.3,733.7 655.0,738.3 C661.7,742.9 670.8,747.4 680.0,752.0 C689.2,756.6 700.8,761.3 710.0,766.0 C719.2,770.7 728.7,775.7 735.0,780.0 C741.3,784.3 745.0,788.4 748.0,792.0 C751.0,795.6 753.3,798.8 753.3,801.8 C753.3,804.8 752.4,805.7 748.0,810.0 C743.6,814.3 735.6,823.1 727.0,827.6 C718.4,832.1 706.7,832.9 696.5,836.7 C686.3,840.5 674.1,846.4 666.0,850.5 C657.9,854.6 652.5,857.4 647.6,861.2 C642.7,865.0 639.4,869.4 636.8,873.5 C634.2,877.6 633.3,881.6 632.2,885.7 C631.1,889.8 630.5,890.6 630.0,898.0 C629.5,905.4 629.2,919.7 629.0,930.0 C628.8,940.3 628.8,955.0 628.8,960.0 L628.6,960 L628.6,608 Z" fill="#CCBB44" fill-opacity="0.1" stroke="none"/>
<path d="M632.4,608.0 C633.5,612.2 637.4,625.3 639.0,633.5 C640.6,641.7 642.0,650.2 642.0,657.4 C642.0,664.6 640.1,670.1 639.0,676.5 C637.9,682.9 635.9,689.7 635.3,695.7 C634.7,701.7 634.5,707.9 635.2,712.7 C636.0,717.5 636.5,720.0 639.8,724.3 C643.1,728.6 648.3,733.7 655.0,738.3 C661.7,742.9 670.8,747.4 680.0,752.0 C689.2,756.6 700.8,761.3 710.0,766.0 C719.2,770.7 728.7,775.7 735.0,780.0 C741.3,784.3 745.0,788.4 748.0,792.0 C751.0,795.6 753.3,798.8 753.3,801.8 C753.3,804.8 752.4,805.7 748.0,810.0 C743.6,814.3 735.6,823.1 727.0,827.6 C718.4,832.1 706.7,832.9 696.5,836.7 C686.3,840.5 674.1,846.4 666.0,850.5 C657.9,854.6 652.5,857.4 647.6,861.2 C642.7,865.0 639.4,869.4 636.8,873.5 C634.2,877.6 633.3,881.6 632.2,885.7 C631.1,889.8 630.5,890.6 630.0,898.0 C629.5,905.4 629.2,919.7 629.0,930.0 C628.8,940.3 628.8,955.0 628.8,960.0" fill="none" stroke="#CCBB44" stroke-width="2.8" stroke-dasharray="7 4" stroke-linejoin="round"/>
<path d="M628.8,608.0 C628.8,623.3 628.7,681.2 629.0,700.0 C629.3,718.8 627.8,715.1 630.5,720.8 C633.2,726.5 640.0,730.1 645.0,734.0 C650.0,737.9 653.3,739.5 660.8,744.2 C668.3,748.9 680.1,756.5 690.0,762.0 C699.9,767.5 703.3,773.4 720.0,777.3 C736.7,781.2 770.5,783.4 790.0,785.5 C809.5,787.6 824.2,788.7 836.7,790.2 C849.2,791.7 857.0,793.1 865.0,794.5 C873.0,795.9 880.6,797.5 885.0,798.5 C889.4,799.5 891.3,799.8 891.3,800.6 C891.3,801.4 890.2,802.1 885.0,803.5 C879.8,804.9 872.0,807.3 860.0,808.8 C848.0,810.3 828.8,810.9 813.3,812.3 C797.8,813.7 782.2,815.4 766.7,817.0 C751.2,818.6 732.8,819.7 720.0,821.7 C707.2,823.7 699.0,826.0 690.0,829.0 C681.0,832.0 673.5,836.3 666.0,840.0 C658.5,843.7 650.5,847.3 645.0,851.0 C639.5,854.7 635.5,858.0 633.0,862.0 C630.5,866.0 630.7,858.7 630.0,875.0 C629.3,891.3 629.0,945.8 628.8,960.0 L628.6,960 L628.6,608 Z" fill="#CCBB44" fill-opacity="0.1" stroke="none"/>
<path d="M628.8,608.0 C628.8,623.3 628.7,681.2 629.0,700.0 C629.3,718.8 627.8,715.1 630.5,720.8 C633.2,726.5 640.0,730.1 645.0,734.0 C650.0,737.9 653.3,739.5 660.8,744.2 C668.3,748.9 680.1,756.5 690.0,762.0 C699.9,767.5 703.3,773.4 720.0,777.3 C736.7,781.2 770.5,783.4 790.0,785.5 C809.5,787.6 824.2,788.7 836.7,790.2 C849.2,791.7 857.0,793.1 865.0,794.5 C873.0,795.9 880.6,797.5 885.0,798.5 C889.4,799.5 891.3,799.8 891.3,800.6 C891.3,801.4 890.2,802.1 885.0,803.5 C879.8,804.9 872.0,807.3 860.0,808.8 C848.0,810.3 828.8,810.9 813.3,812.3 C797.8,813.7 782.2,815.4 766.7,817.0 C751.2,818.6 732.8,819.7 720.0,821.7 C707.2,823.7 699.0,826.0 690.0,829.0 C681.0,832.0 673.5,836.3 666.0,840.0 C658.5,843.7 650.5,847.3 645.0,851.0 C639.5,854.7 635.5,858.0 633.0,862.0 C630.5,866.0 630.7,858.7 630.0,875.0 C629.3,891.3 629.0,945.8 628.8,960.0" fill="none" stroke="#CCBB44" stroke-width="2.8" stroke-linejoin="round"/>
<path d="M628.8,608.0 C628.8,620.0 628.8,663.1 629.0,680.0 C629.2,696.9 629.0,701.8 630.0,709.2 C631.0,716.6 632.0,719.8 635.2,724.3 C638.4,728.8 644.0,731.9 649.2,736.0 C654.5,740.1 659.9,744.5 666.7,748.8 C673.5,753.1 681.1,758.1 690.0,761.7 C698.9,765.3 711.1,768.1 720.0,770.3 C728.9,772.5 735.5,773.4 743.3,775.0 C751.1,776.6 758.9,778.2 766.7,779.7 C774.5,781.2 783.2,782.5 790.0,784.3 C796.8,786.0 802.8,788.4 807.5,790.2 C812.2,792.0 815.9,793.6 818.0,795.0 C820.1,796.4 820.6,797.1 820.3,798.3 C820.0,799.5 819.1,800.6 816.0,802.0 C812.9,803.4 809.4,804.8 801.7,806.5 C794.0,808.2 780.4,809.5 770.0,812.0 C759.6,814.5 751.6,818.7 739.4,821.4 C727.1,824.1 708.7,825.5 696.5,828.3 C684.3,831.1 674.9,834.6 666.0,838.3 C657.1,842.0 648.6,846.7 643.0,850.5 C637.4,854.3 634.5,857.6 632.2,861.2 C630.0,864.8 630.1,855.5 629.5,872.0 C628.9,888.5 628.9,945.3 628.8,960.0 L628.6,960 L628.6,608 Z" fill="#66CCEE" fill-opacity="0.1" stroke="none"/>
<path d="M628.8,608.0 C628.8,620.0 628.8,663.1 629.0,680.0 C629.2,696.9 629.0,701.8 630.0,709.2 C631.0,716.6 632.0,719.8 635.2,724.3 C638.4,728.8 644.0,731.9 649.2,736.0 C654.5,740.1 659.9,744.5 666.7,748.8 C673.5,753.1 681.1,758.1 690.0,761.7 C698.9,765.3 711.1,768.1 720.0,770.3 C728.9,772.5 735.5,773.4 743.3,775.0 C751.1,776.6 758.9,778.2 766.7,779.7 C774.5,781.2 783.2,782.5 790.0,784.3 C796.8,786.0 802.8,788.4 807.5,790.2 C812.2,792.0 815.9,793.6 818.0,795.0 C820.1,796.4 820.6,797.1 820.3,798.3 C820.0,799.5 819.1,800.6 816.0,802.0 C812.9,803.4 809.4,804.8 801.7,806.5 C794.0,808.2 780.4,809.5 770.0,812.0 C759.6,814.5 751.6,818.7 739.4,821.4 C727.1,824.1 708.7,825.5 696.5,828.3 C684.3,831.1 674.9,834.6 666.0,838.3 C657.1,842.0 648.6,846.7 643.0,850.5 C637.4,854.3 634.5,857.6 632.2,861.2 C630.0,864.8 630.1,855.5 629.5,872.0 C628.9,888.5 628.9,945.3 628.8,960.0" fill="none" stroke="#66CCEE" stroke-width="2.8" stroke-linejoin="round"/>
<path d="M628.8,608.0 C628.8,630.0 628.9,716.7 629.0,740.0 C629.1,763.3 628.5,745.2 629.3,747.7 C630.1,750.2 630.7,752.6 634.0,754.7 C637.3,756.8 641.8,758.6 649.2,760.5 C656.6,762.4 667.6,764.2 678.3,766.3 C689.0,768.4 701.6,771.3 713.3,773.3 C725.0,775.2 735.5,776.2 748.3,778.0 C761.1,779.8 775.3,782.2 790.0,783.8 C804.7,785.4 818.7,786.4 836.7,787.8 C854.8,789.2 880.2,790.8 898.3,792.2 C916.3,793.6 935.0,795.2 945.0,796.3 C955.0,797.4 955.5,798.3 958.0,799.0 C960.5,799.7 960.7,800.1 960.2,800.6 C959.7,801.1 957.5,801.8 955.0,802.3 C952.5,802.8 954.5,802.6 945.0,803.3 C935.5,803.9 915.8,805.0 898.3,806.2 C880.8,807.4 854.2,809.4 840.0,810.3 C825.8,811.2 825.5,811.1 813.3,811.8 C801.1,812.5 779.0,813.6 766.7,814.7 C754.4,815.8 753.6,816.4 739.4,818.4 C725.1,820.4 696.0,824.2 681.2,826.8 C666.4,829.3 658.2,831.3 650.6,833.7 C643.0,836.1 638.8,838.8 635.3,841.3 C631.8,843.8 630.6,829.2 629.5,849.0 C628.4,868.8 628.9,941.5 628.8,960.0 L628.6,960 L628.6,608 Z" fill="#AA3377" fill-opacity="0.1" stroke="none"/>
<path d="M628.8,608.0 C628.8,630.0 628.9,716.7 629.0,740.0 C629.1,763.3 628.5,745.2 629.3,747.7 C630.1,750.2 630.7,752.6 634.0,754.7 C637.3,756.8 641.8,758.6 649.2,760.5 C656.6,762.4 667.6,764.2 678.3,766.3 C689.0,768.4 701.6,771.3 713.3,773.3 C725.0,775.2 735.5,776.2 748.3,778.0 C761.1,779.8 775.3,782.2 790.0,783.8 C804.7,785.4 818.7,786.4 836.7,787.8 C854.8,789.2 880.2,790.8 898.3,792.2 C916.3,793.6 935.0,795.2 945.0,796.3 C955.0,797.4 955.5,798.3 958.0,799.0 C960.5,799.7 960.7,800.1 960.2,800.6 C959.7,801.1 957.5,801.8 955.0,802.3 C952.5,802.8 954.5,802.6 945.0,803.3 C935.5,803.9 915.8,805.0 898.3,806.2 C880.8,807.4 854.2,809.4 840.0,810.3 C825.8,811.2 825.5,811.1 813.3,811.8 C801.1,812.5 779.0,813.6 766.7,814.7 C754.4,815.8 753.6,816.4 739.4,818.4 C725.1,820.4 696.0,824.2 681.2,826.8 C666.4,829.3 658.2,831.3 650.6,833.7 C643.0,836.1 638.8,838.8 635.3,841.3 C631.8,843.8 630.6,829.2 629.5,849.0 C628.4,868.8 628.9,941.5 628.8,960.0" fill="none" stroke="#AA3377" stroke-width="2.8" stroke-dasharray="7 4" stroke-linejoin="round"/>
<path d="M628.8,608.0 C628.8,625.8 628.9,695.2 629.0,715.0 C629.1,734.8 628.8,723.2 629.3,726.7 C629.8,730.2 629.4,733.3 631.7,736.0 C634.0,738.7 637.5,740.7 643.3,743.0 C649.1,745.3 658.9,748.0 666.7,750.0 C674.5,752.0 682.2,753.2 690.0,754.7 C697.8,756.2 705.5,757.8 713.3,759.3 C721.1,760.8 728.9,762.5 736.7,764.0 C744.5,765.5 753.1,766.8 760.0,768.5 C766.9,770.2 773.3,772.7 778.3,774.4 C783.3,776.1 784.2,776.9 790.0,778.5 C795.8,780.1 805.5,782.5 813.3,784.3 C821.1,786.0 829.8,787.4 836.7,789.0 C843.7,790.6 850.5,792.8 855.0,794.0 C859.5,795.2 862.0,795.8 864.0,796.5 C866.0,797.2 867.0,797.4 866.8,798.0 C866.6,798.6 865.0,799.2 863.0,800.0 C861.0,800.8 859.4,801.7 855.0,802.5 C850.6,803.3 843.7,803.9 836.7,804.8 C829.8,805.7 821.1,806.6 813.3,807.7 C805.5,808.8 797.8,810.2 790.0,811.2 C782.2,812.2 775.1,813.3 766.7,814.0 C758.3,814.7 753.6,813.8 739.4,815.3 C725.1,816.8 696.0,820.5 681.2,823.0 C666.4,825.5 658.2,828.3 650.6,830.6 C643.0,832.9 638.6,834.1 635.3,836.7 C632.0,839.3 631.8,842.0 630.7,846.0 C629.7,850.0 629.3,842.0 629.0,861.0 C628.7,880.0 628.8,943.5 628.8,960.0 L628.6,960 L628.6,608 Z" fill="#AA3377" fill-opacity="0.1" stroke="none"/>
<path d="M628.8,608.0 C628.8,625.8 628.9,695.2 629.0,715.0 C629.1,734.8 628.8,723.2 629.3,726.7 C629.8,730.2 629.4,733.3 631.7,736.0 C634.0,738.7 637.5,740.7 643.3,743.0 C649.1,745.3 658.9,748.0 666.7,750.0 C674.5,752.0 682.2,753.2 690.0,754.7 C697.8,756.2 705.5,757.8 713.3,759.3 C721.1,760.8 728.9,762.5 736.7,764.0 C744.5,765.5 753.1,766.8 760.0,768.5 C766.9,770.2 773.3,772.7 778.3,774.4 C783.3,776.1 784.2,776.9 790.0,778.5 C795.8,780.1 805.5,782.5 813.3,784.3 C821.1,786.0 829.8,787.4 836.7,789.0 C843.7,790.6 850.5,792.8 855.0,794.0 C859.5,795.2 862.0,795.8 864.0,796.5 C866.0,797.2 867.0,797.4 866.8,798.0 C866.6,798.6 865.0,799.2 863.0,800.0 C861.0,800.8 859.4,801.7 855.0,802.5 C850.6,803.3 843.7,803.9 836.7,804.8 C829.8,805.7 821.1,806.6 813.3,807.7 C805.5,808.8 797.8,810.2 790.0,811.2 C782.2,812.2 775.1,813.3 766.7,814.0 C758.3,814.7 753.6,813.8 739.4,815.3 C725.1,816.8 696.0,820.5 681.2,823.0 C666.4,825.5 658.2,828.3 650.6,830.6 C643.0,832.9 638.6,834.1 635.3,836.7 C632.0,839.3 631.8,842.0 630.7,846.0 C629.7,850.0 629.3,842.0 629.0,861.0 C628.7,880.0 628.8,943.5 628.8,960.0" fill="none" stroke="#AA3377" stroke-width="2.8" stroke-linejoin="round"/>
<path d="M628.6,607.8 H969.0 V959.8 H628.6 Z" fill="none" stroke="#555" stroke-width="1.0"/>
<line x1="624" y1="682.4" x2="628.5" y2="682.4" stroke="#555" stroke-width="1.2" stroke-linecap="butt"/>
<text transform="translate(570.00,691.70) scale(1.0000,1)" font-size="26" font-weight="normal" font-style="normal" xml:space="preserve">200</text>
<line x1="624" y1="783.4" x2="628.5" y2="783.4" stroke="#555" stroke-width="1.2" stroke-linecap="butt"/>
<text transform="translate(599.00,792.70) scale(1.0000,1)" font-size="26" font-weight="normal" font-style="normal" xml:space="preserve">0</text>
<line x1="624" y1="884.4" x2="628.5" y2="884.4" stroke="#555" stroke-width="1.2" stroke-linecap="butt"/>
<text transform="translate(562.00,893.70) scale(1.0000,1)" font-size="26" font-weight="normal" font-style="normal" xml:space="preserve">-200</text>
<line x1="628.4" y1="960" x2="628.4" y2="967" stroke="#555" stroke-width="1.2" stroke-linecap="butt"/>
<line x1="741.8" y1="960" x2="741.8" y2="967" stroke="#555" stroke-width="1.2" stroke-linecap="butt"/>
<line x1="855.5" y1="960" x2="855.5" y2="967" stroke="#555" stroke-width="1.2" stroke-linecap="butt"/>
<line x1="969" y1="960" x2="969" y2="967" stroke="#555" stroke-width="1.2" stroke-linecap="butt"/>
<text transform="translate(596.46,995.30) scale(1.0424,1)" font-size="24.4" font-weight="normal" font-style="normal" xml:space="preserve">0.000</text>
<text transform="translate(708.91,995.30) scale(1.0881,1)" font-size="24.4" font-weight="normal" font-style="normal" xml:space="preserve">0.005</text>
<text transform="translate(822.73,995.30) scale(1.0712,1)" font-size="24.4" font-weight="normal" font-style="normal" xml:space="preserve">0.010</text>
<text transform="translate(934.44,995.30) scale(1.0593,1)" font-size="24.4" font-weight="normal" font-style="normal" xml:space="preserve">0.015</text>
<text transform="translate(766.71,1034.30) scale(1.1440,1)" font-size="25.8" font-weight="normal" font-style="normal" xml:space="preserve">KDE</text>
<text transform="translate(556.00,852.61) rotate(-90) scale(1.0122,1)" font-size="26" font-weight="normal" font-style="normal" xml:space="preserve">Δ[Br</text>
<text transform="translate(544.00,801.70) rotate(-90) scale(1.4000,1)" font-size="17.5" font-weight="normal" font-style="normal" xml:space="preserve">-</text>
<text transform="translate(556.00,792.60) rotate(-90) scale(0.9975,1)" font-size="26" font-weight="normal" font-style="normal" xml:space="preserve">] (mg L</text>
<text transform="translate(544.80,712.34) rotate(-90) scale(0.8357,1)" font-size="17.5" font-weight="normal" font-style="normal" xml:space="preserve">-1</text>
<text transform="translate(556.00,696.07) rotate(-90) scale(1.0667,1)" font-size="26" font-weight="normal" font-style="normal" xml:space="preserve">)</text>
<line x1="628.5" y1="783.6" x2="969" y2="783.6" stroke="#000000" stroke-width="2.0" stroke-dasharray="7.5 14.5" stroke-linecap="butt"/>
</svg></body></html>
